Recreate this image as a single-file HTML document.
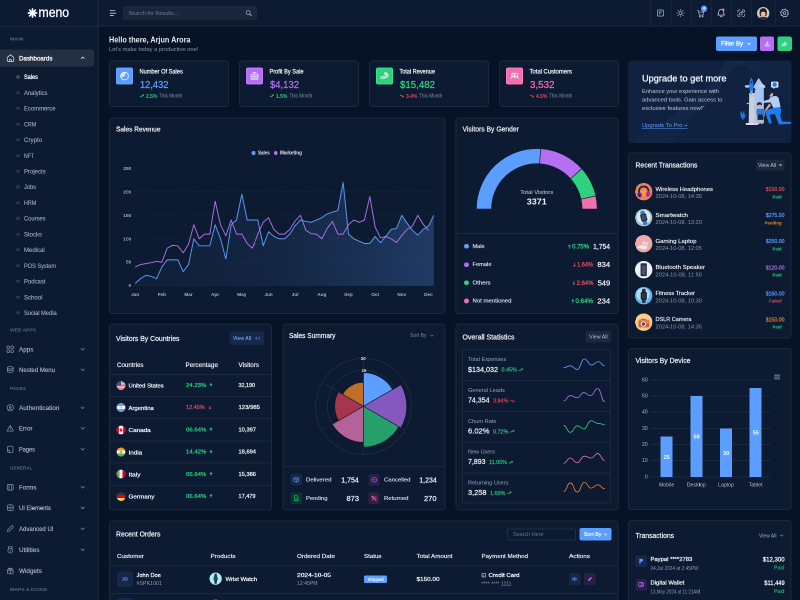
<!DOCTYPE html>
<html lang="en"><head><meta charset="utf-8"><title>Meno Dashboard</title><style>
html,body{margin:0;padding:0;width:800px;height:600px;overflow:hidden;}
body{width:800px;height:600px;overflow:hidden;background:#061225;font-family:"Liberation Sans",sans-serif;position:relative;}
.t{position:absolute;white-space:nowrap;margin:0;padding:0;}
.b{position:absolute;box-sizing:border-box;margin:0;padding:0;}
svg{overflow:visible;}
#w{position:absolute;left:0;top:0;width:1600px;height:1200px;transform:scale(0.5);transform-origin:0 0;will-change:transform;overflow:hidden;}
</style></head><body><div id="w">
<div class="b" style="left:0.00px;top:0.00px;width:197.00px;height:1200.00px;background:#0d1b32;border-right:2px solid #1c283d;"></div>
<div class="b" style="left:197.00px;top:0.00px;width:1403.00px;height:53.00px;background:#0d1b32;border-bottom:2px solid #1c283d;"></div>
<div class="b" style="left:0.00px;top:52.00px;width:197.00px;height:2.00px;background:#1c283d;"></div>
<svg class="b" style="left:55.30px;top:15.80px;" width="20.00" height="20.00" viewBox="0 0 10 10"><g transform="translate(5,5)"><line x1="-4.1" y1="0" x2="4.1" y2="0" transform="rotate(0)" stroke="#fff" stroke-width="1.65" stroke-linecap="round"/><line x1="-4.1" y1="0" x2="4.1" y2="0" transform="rotate(45)" stroke="#fff" stroke-width="1.65" stroke-linecap="round"/><line x1="-4.1" y1="0" x2="4.1" y2="0" transform="rotate(90)" stroke="#fff" stroke-width="1.65" stroke-linecap="round"/><line x1="-4.1" y1="0" x2="4.1" y2="0" transform="rotate(135)" stroke="#fff" stroke-width="1.65" stroke-linecap="round"/></g></svg>
<div class="t" style="top:9.18px;font-size:27.20px;line-height:32.64px;color:#ffffff;left:77.20px;transform:scaleX(0.9);transform-origin:0 50%;-webkit-text-stroke:0.55px #fff;">meno</div>
<div class="t" style="top:73.12px;font-size:8.80px;line-height:10.56px;color:#596881;font-weight:700;left:20.00px;transform:scaleX(1.2007);transform-origin:0 50%;">MAIN</div>
<div class="b" style="left:0.00px;top:99.00px;width:188.00px;height:34.00px;background:#232f43;border-radius:0 5px 5px 0;"></div>
<svg class="b" style="left:12.60px;top:108.00px;" width="16.00" height="16.00" viewBox="0 0 8 8"><path d="M4 0.8 L6.9 3.1 Q7.3 3.5 7.3 4.1 V6.2 Q7.3 7.4 6.1 7.4 H1.9 Q0.7 7.4 0.7 6.2 V4.1 Q0.7 3.5 1.1 3.1 Z" fill="none" stroke="#e9edf4" stroke-width="0.7" stroke-linejoin="round"/><path d="M2.9 7.3 V5.7 Q4 4.6 5.1 5.7 V7.3" fill="none" stroke="#e9edf4" stroke-width="0.6"/></svg>
<div class="t" style="top:109.02px;font-size:12.80px;line-height:15.36px;color:#ffffff;-webkit-text-stroke:0.55px #ffffff;left:38.40px;transform:scaleX(0.9707);transform-origin:0 50%;">Dashboards</div>
<svg class="b" style="left:160.60px;top:112.40px;" width="8.80" height="7.20" viewBox="0 0 4.4 3.6"><path d="M0.6 2.6 L2.2 1 L3.8 2.6" fill="none" stroke="#dfe5ee" stroke-width="0.7" stroke-linecap="round" stroke-linejoin="round"/></svg>
<div class="b" style="left:33.40px;top:151.40px;width:5.20px;height:5.20px;border:2px solid #aeb8c8;border-radius:4.00px;border-width:1.2px;"></div>
<div class="t" style="top:147.34px;font-size:12.60px;line-height:15.12px;color:#ffffff;-webkit-text-stroke:0.50px #ffffff;left:48.20px;transform:scaleX(0.8820);transform-origin:0 50%;">Sales</div>
<div class="b" style="left:33.40px;top:182.84px;width:5.20px;height:5.20px;border:2px solid #66748b;border-radius:4.00px;border-width:1.2px;"></div>
<div class="t" style="top:178.78px;font-size:12.60px;line-height:15.12px;color:#a3afc2;-webkit-text-stroke:0.20px #a3afc2;left:48.20px;transform:scaleX(0.9322);transform-origin:0 50%;">Analytics</div>
<div class="b" style="left:33.40px;top:214.28px;width:5.20px;height:5.20px;border:2px solid #66748b;border-radius:4.00px;border-width:1.2px;"></div>
<div class="t" style="top:210.22px;font-size:12.60px;line-height:15.12px;color:#a3afc2;-webkit-text-stroke:0.20px #a3afc2;left:48.20px;transform:scaleX(0.9373);transform-origin:0 50%;">Ecommerce</div>
<div class="b" style="left:33.40px;top:245.72px;width:5.20px;height:5.20px;border:2px solid #66748b;border-radius:4.00px;border-width:1.2px;"></div>
<div class="t" style="top:241.66px;font-size:12.60px;line-height:15.12px;color:#a3afc2;-webkit-text-stroke:0.20px #a3afc2;left:48.20px;transform:scaleX(0.8503);transform-origin:0 50%;">CRM</div>
<div class="b" style="left:33.40px;top:277.16px;width:5.20px;height:5.20px;border:2px solid #66748b;border-radius:4.00px;border-width:1.2px;"></div>
<div class="t" style="top:273.10px;font-size:12.60px;line-height:15.12px;color:#a3afc2;-webkit-text-stroke:0.20px #a3afc2;left:48.20px;transform:scaleX(0.9808);transform-origin:0 50%;">Crypto</div>
<div class="b" style="left:33.40px;top:308.60px;width:5.20px;height:5.20px;border:2px solid #66748b;border-radius:4.00px;border-width:1.2px;"></div>
<div class="t" style="top:304.54px;font-size:12.60px;line-height:15.12px;color:#a3afc2;-webkit-text-stroke:0.20px #a3afc2;left:48.20px;transform:scaleX(0.8166);transform-origin:0 50%;">NFT</div>
<div class="b" style="left:33.40px;top:340.04px;width:5.20px;height:5.20px;border:2px solid #66748b;border-radius:4.00px;border-width:1.2px;"></div>
<div class="t" style="top:335.98px;font-size:12.60px;line-height:15.12px;color:#a3afc2;-webkit-text-stroke:0.20px #a3afc2;left:48.20px;transform:scaleX(0.9535);transform-origin:0 50%;">Projects</div>
<div class="b" style="left:33.40px;top:371.48px;width:5.20px;height:5.20px;border:2px solid #66748b;border-radius:4.00px;border-width:1.2px;"></div>
<div class="t" style="top:367.42px;font-size:12.60px;line-height:15.12px;color:#a3afc2;-webkit-text-stroke:0.20px #a3afc2;left:48.20px;transform:scaleX(0.9017);transform-origin:0 50%;">Jobs</div>
<div class="b" style="left:33.40px;top:402.92px;width:5.20px;height:5.20px;border:2px solid #66748b;border-radius:4.00px;border-width:1.2px;"></div>
<div class="t" style="top:398.86px;font-size:12.60px;line-height:15.12px;color:#a3afc2;-webkit-text-stroke:0.20px #a3afc2;left:48.20px;transform:scaleX(0.8503);transform-origin:0 50%;">HRM</div>
<div class="b" style="left:33.40px;top:434.36px;width:5.20px;height:5.20px;border:2px solid #66748b;border-radius:4.00px;border-width:1.2px;"></div>
<div class="t" style="top:430.30px;font-size:12.60px;line-height:15.12px;color:#a3afc2;-webkit-text-stroke:0.20px #a3afc2;left:48.20px;transform:scaleX(0.9165);transform-origin:0 50%;">Courses</div>
<div class="b" style="left:33.40px;top:465.80px;width:5.20px;height:5.20px;border:2px solid #66748b;border-radius:4.00px;border-width:1.2px;"></div>
<div class="t" style="top:461.74px;font-size:12.60px;line-height:15.12px;color:#a3afc2;-webkit-text-stroke:0.20px #a3afc2;left:48.20px;transform:scaleX(0.9521);transform-origin:0 50%;">Stocks</div>
<div class="b" style="left:33.40px;top:497.24px;width:5.20px;height:5.20px;border:2px solid #66748b;border-radius:4.00px;border-width:1.2px;"></div>
<div class="t" style="top:493.18px;font-size:12.60px;line-height:15.12px;color:#a3afc2;-webkit-text-stroke:0.20px #a3afc2;left:48.20px;transform:scaleX(0.9535);transform-origin:0 50%;">Medical</div>
<div class="b" style="left:33.40px;top:528.68px;width:5.20px;height:5.20px;border:2px solid #66748b;border-radius:4.00px;border-width:1.2px;"></div>
<div class="t" style="top:524.62px;font-size:12.60px;line-height:15.12px;color:#a3afc2;-webkit-text-stroke:0.20px #a3afc2;left:48.20px;transform:scaleX(0.8874);transform-origin:0 50%;">POS System</div>
<div class="b" style="left:33.40px;top:560.12px;width:5.20px;height:5.20px;border:2px solid #66748b;border-radius:4.00px;border-width:1.2px;"></div>
<div class="t" style="top:556.06px;font-size:12.60px;line-height:15.12px;color:#a3afc2;-webkit-text-stroke:0.20px #a3afc2;left:48.20px;transform:scaleX(0.9445);transform-origin:0 50%;">Podcast</div>
<div class="b" style="left:33.40px;top:591.56px;width:5.20px;height:5.20px;border:2px solid #66748b;border-radius:4.00px;border-width:1.2px;"></div>
<div class="t" style="top:587.50px;font-size:12.60px;line-height:15.12px;color:#a3afc2;-webkit-text-stroke:0.20px #a3afc2;left:48.20px;transform:scaleX(0.9604);transform-origin:0 50%;">School</div>
<div class="b" style="left:33.40px;top:623.00px;width:5.20px;height:5.20px;border:2px solid #66748b;border-radius:4.00px;border-width:1.2px;"></div>
<div class="t" style="top:618.94px;font-size:12.60px;line-height:15.12px;color:#a3afc2;-webkit-text-stroke:0.20px #a3afc2;left:48.20px;transform:scaleX(0.9066);transform-origin:0 50%;">Social Media</div>
<div class="t" style="top:654.72px;font-size:8.80px;line-height:10.56px;color:#596881;font-weight:700;left:20.00px;transform:scaleX(1.1155);transform-origin:0 50%;">WEB APPS</div>
<div class="t" style="top:771.72px;font-size:8.80px;line-height:10.56px;color:#596881;font-weight:700;left:20.00px;transform:scaleX(1.0611);transform-origin:0 50%;">PAGES</div>
<div class="t" style="top:931.32px;font-size:8.80px;line-height:10.56px;color:#596881;font-weight:700;left:20.00px;transform:scaleX(1.0459);transform-origin:0 50%;">GENERAL</div>
<div class="t" style="top:1173.72px;font-size:8.80px;line-height:10.56px;color:#596881;font-weight:700;left:20.00px;transform:scaleX(1.1466);transform-origin:0 50%;">MAPS &amp; ICONS</div>
<svg class="b" style="left:13.20px;top:690.80px;" width="15.00" height="15.00" viewBox="0 0 7.5 7.5"><g fill="none" stroke="#8d9aaf" stroke-width="0.65" stroke-linecap="round"><rect x="0.5" y="0.5" width="2.6" height="2.6" rx="0.7"/><rect x="4.4" y="0.5" width="2.6" height="2.6" rx="0.7"/><rect x="0.5" y="4.4" width="2.6" height="2.6" rx="0.7"/><rect x="4.4" y="4.4" width="2.6" height="2.6" rx="0.7"/></g></svg>
<div class="t" style="top:691.08px;font-size:13.20px;line-height:15.84px;color:#b2bccd;-webkit-text-stroke:0.25px #b2bccd;left:38.40px;transform:scaleX(0.9572);transform-origin:0 50%;">Apps</div>
<svg class="b" style="left:160.60px;top:695.00px;" width="8.80" height="7.20" viewBox="0 0 4.4 3.6"><path d="M0.6 1 L2.2 2.6 L3.8 1" fill="none" stroke="#8492a8" stroke-width="0.7" stroke-linecap="round" stroke-linejoin="round"/></svg>
<svg class="b" style="left:13.20px;top:732.20px;" width="15.00" height="15.00" viewBox="0 0 7.5 7.5"><g fill="none" stroke="#8d9aaf" stroke-width="0.65" stroke-linecap="round"><ellipse cx="3.75" cy="1.8" rx="2.9" ry="1.2"/><path d="M0.85 1.8 V5.6 Q3.75 7.6 6.65 5.6 V1.8"/><path d="M0.85 3.7 Q3.75 5.7 6.65 3.7"/></g></svg>
<div class="t" style="top:732.48px;font-size:13.20px;line-height:15.84px;color:#b2bccd;-webkit-text-stroke:0.25px #b2bccd;left:38.40px;transform:scaleX(0.9171);transform-origin:0 50%;">Nested Menu</div>
<svg class="b" style="left:160.60px;top:736.40px;" width="8.80" height="7.20" viewBox="0 0 4.4 3.6"><path d="M0.6 1 L2.2 2.6 L3.8 1" fill="none" stroke="#8492a8" stroke-width="0.7" stroke-linecap="round" stroke-linejoin="round"/></svg>
<svg class="b" style="left:13.20px;top:807.80px;" width="15.00" height="15.00" viewBox="0 0 7.5 7.5"><g fill="none" stroke="#8d9aaf" stroke-width="0.65" stroke-linecap="round"><circle cx="3.75" cy="3.75" r="3.2"/><circle cx="3.75" cy="3.2" r="0.9"/><path d="M2.3 5.6 Q3.75 4 5.2 5.6"/></g></svg>
<div class="t" style="top:808.08px;font-size:13.20px;line-height:15.84px;color:#b2bccd;-webkit-text-stroke:0.25px #b2bccd;left:38.40px;transform:scaleX(0.9682);transform-origin:0 50%;">Authentication</div>
<svg class="b" style="left:160.60px;top:812.00px;" width="8.80" height="7.20" viewBox="0 0 4.4 3.6"><path d="M0.6 1 L2.2 2.6 L3.8 1" fill="none" stroke="#8492a8" stroke-width="0.7" stroke-linecap="round" stroke-linejoin="round"/></svg>
<svg class="b" style="left:13.20px;top:849.20px;" width="15.00" height="15.00" viewBox="0 0 7.5 7.5"><g fill="none" stroke="#8d9aaf" stroke-width="0.65" stroke-linecap="round"><path d="M3.75 0.8 L7 6.6 H0.5 Z" stroke-linejoin="round"/><path d="M3.75 3 V4.6 M3.75 5.4 V5.6"/></g></svg>
<div class="t" style="top:849.48px;font-size:13.20px;line-height:15.84px;color:#b2bccd;-webkit-text-stroke:0.25px #b2bccd;left:38.40px;transform:scaleX(0.9204);transform-origin:0 50%;">Error</div>
<svg class="b" style="left:160.60px;top:853.40px;" width="8.80" height="7.20" viewBox="0 0 4.4 3.6"><path d="M0.6 1 L2.2 2.6 L3.8 1" fill="none" stroke="#8492a8" stroke-width="0.7" stroke-linecap="round" stroke-linejoin="round"/></svg>
<svg class="b" style="left:13.20px;top:891.20px;" width="15.00" height="15.00" viewBox="0 0 7.5 7.5"><g fill="none" stroke="#8d9aaf" stroke-width="0.65" stroke-linecap="round"><path d="M1 1.8 Q1 0.7 2.1 0.7 H5.4 Q6.5 0.7 6.5 1.8 V5.7 Q6.5 6.8 5.4 6.8 H2.1 Q1 6.8 1 5.7 Z"/><path d="M1 4.6 L3 4.6 L3 6.8"/></g></svg>
<div class="t" style="top:891.48px;font-size:13.20px;line-height:15.84px;color:#b2bccd;-webkit-text-stroke:0.25px #b2bccd;left:38.40px;transform:scaleX(0.8549);transform-origin:0 50%;">Pages</div>
<svg class="b" style="left:160.60px;top:895.40px;" width="8.80" height="7.20" viewBox="0 0 4.4 3.6"><path d="M0.6 1 L2.2 2.6 L3.8 1" fill="none" stroke="#8492a8" stroke-width="0.7" stroke-linecap="round" stroke-linejoin="round"/></svg>
<svg class="b" style="left:13.20px;top:966.80px;" width="15.00" height="15.00" viewBox="0 0 7.5 7.5"><g fill="none" stroke="#8d9aaf" stroke-width="0.65" stroke-linecap="round"><rect x="0.8" y="0.8" width="5.9" height="5.9" rx="1.3"/><path d="M2.5 0.8 V6.7 M5 0.8 V6.7"/></g></svg>
<div class="t" style="top:967.08px;font-size:13.20px;line-height:15.84px;color:#b2bccd;-webkit-text-stroke:0.25px #b2bccd;left:38.40px;transform:scaleX(0.9359);transform-origin:0 50%;">Forms</div>
<svg class="b" style="left:160.60px;top:971.00px;" width="8.80" height="7.20" viewBox="0 0 4.4 3.6"><path d="M0.6 1 L2.2 2.6 L3.8 1" fill="none" stroke="#8492a8" stroke-width="0.7" stroke-linecap="round" stroke-linejoin="round"/></svg>
<svg class="b" style="left:13.20px;top:1008.20px;" width="15.00" height="15.00" viewBox="0 0 7.5 7.5"><g fill="none" stroke="#8d9aaf" stroke-width="0.65" stroke-linecap="round"><rect x="0.8" y="0.8" width="5.9" height="5.9" rx="1.6"/><path d="M0.8 3.75 H6.7 M3.75 0.8 V2.3 M3.75 5.2 V6.7"/></g></svg>
<div class="t" style="top:1008.48px;font-size:13.20px;line-height:15.84px;color:#b2bccd;-webkit-text-stroke:0.25px #b2bccd;left:38.40px;transform:scaleX(0.8902);transform-origin:0 50%;">UI Elements</div>
<svg class="b" style="left:160.60px;top:1012.40px;" width="8.80" height="7.20" viewBox="0 0 4.4 3.6"><path d="M0.6 1 L2.2 2.6 L3.8 1" fill="none" stroke="#8492a8" stroke-width="0.7" stroke-linecap="round" stroke-linejoin="round"/></svg>
<svg class="b" style="left:13.20px;top:1050.20px;" width="15.00" height="15.00" viewBox="0 0 7.5 7.5"><g fill="none" stroke="#8d9aaf" stroke-width="0.65" stroke-linecap="round"><path d="M0.9 6.6 L1.4 4.6 L5 1 Q5.8 0.4 6.5 1.1 Q7 1.8 6.4 2.5 L2.8 6.1 Z" stroke-linejoin="round"/></g></svg>
<div class="t" style="top:1050.48px;font-size:13.20px;line-height:15.84px;color:#b2bccd;-webkit-text-stroke:0.25px #b2bccd;left:38.40px;transform:scaleX(0.9129);transform-origin:0 50%;">Advanced UI</div>
<svg class="b" style="left:160.60px;top:1054.40px;" width="8.80" height="7.20" viewBox="0 0 4.4 3.6"><path d="M0.6 1 L2.2 2.6 L3.8 1" fill="none" stroke="#8492a8" stroke-width="0.7" stroke-linecap="round" stroke-linejoin="round"/></svg>
<svg class="b" style="left:13.20px;top:1092.20px;" width="15.00" height="15.00" viewBox="0 0 7.5 7.5"><g fill="none" stroke="#8d9aaf" stroke-width="0.65" stroke-linecap="round"><circle cx="3.75" cy="4.6" r="2.4"/><path d="M2.2 2.4 L1.7 0.8 H5.8 L5.3 2.4 M3.75 3.6 V5.4"/></g></svg>
<div class="t" style="top:1092.48px;font-size:13.20px;line-height:15.84px;color:#b2bccd;-webkit-text-stroke:0.25px #b2bccd;left:38.40px;transform:scaleX(0.9638);transform-origin:0 50%;">Utilities</div>
<svg class="b" style="left:160.60px;top:1096.40px;" width="8.80" height="7.20" viewBox="0 0 4.4 3.6"><path d="M0.6 1 L2.2 2.6 L3.8 1" fill="none" stroke="#8492a8" stroke-width="0.7" stroke-linecap="round" stroke-linejoin="round"/></svg>
<svg class="b" style="left:13.20px;top:1133.80px;" width="15.00" height="15.00" viewBox="0 0 7.5 7.5"><g fill="none" stroke="#8d9aaf" stroke-width="0.65" stroke-linecap="round"><rect x="0.9" y="2.2" width="5.7" height="4.6" rx="0.8"/><path d="M0.9 3.8 H6.6 M3.75 2.2 V6.8 M3.75 2.2 Q2 0.2 1.9 1.6 Q2 2.2 3.75 2.2 Q5.5 2.2 5.6 1.6 Q5.5 0.2 3.75 2.2"/></g></svg>
<div class="t" style="top:1134.08px;font-size:13.20px;line-height:15.84px;color:#b2bccd;-webkit-text-stroke:0.25px #b2bccd;left:38.40px;transform:scaleX(0.9647);transform-origin:0 50%;">Widgets</div>
<svg class="b" style="left:219.00px;top:19.20px;" width="16.00" height="14.00" viewBox="0 0 8 7"><path d="M0.7 1 H5.3 M0.7 3.7 H6.4 M0.7 6.1 H3.9" stroke="#c5cdda" stroke-width="0.85" stroke-linecap="round"/></svg>
<div class="b" style="left:246.00px;top:11.60px;width:268.00px;height:28.80px;background:#1a263c;border-radius:4.00px;"></div>
<div class="t" style="top:19.24px;font-size:11.60px;line-height:13.92px;color:#6f7e97;left:256.60px;transform:scaleX(0.9478);transform-origin:0 50%;">Search for Results...</div>
<svg class="b" style="left:491.00px;top:20.00px;" width="13.00" height="13.00" viewBox="0 0 6.5 6.5"><circle cx="2.7" cy="2.7" r="2" fill="none" stroke="#aab5c6" stroke-width="0.7"/><path d="M4.2 4.2 L5.8 5.8" stroke="#aab5c6" stroke-width="0.8" stroke-linecap="round"/></svg>
<div class="b" style="left:1301.00px;top:0.00px;width:2.00px;height:53.00px;background:#18243a;"></div>
<div class="b" style="left:1342.40px;top:0.00px;width:2.00px;height:53.00px;background:#18243a;"></div>
<div class="b" style="left:1382.40px;top:0.00px;width:2.00px;height:53.00px;background:#18243a;"></div>
<div class="b" style="left:1421.60px;top:0.00px;width:2.00px;height:53.00px;background:#18243a;"></div>
<div class="b" style="left:1462.00px;top:0.00px;width:2.00px;height:53.00px;background:#18243a;"></div>
<div class="b" style="left:1502.40px;top:0.00px;width:2.00px;height:53.00px;background:#18243a;"></div>
<div class="b" style="left:1550.00px;top:0.00px;width:2.00px;height:53.00px;background:#18243a;"></div>
<svg class="b" style="left:1313.00px;top:18.00px;" width="16.00" height="16.00" viewBox="0 0 8 8"><rect x="0.9" y="0.9" width="6.2" height="6.2" rx="1.4" fill="none" stroke="#c3cbd9" stroke-width="0.62" stroke-linecap="round" stroke-linejoin="round"/><path d="M3 2.8 H5 M3 2.8 V5.2 M3 4 H4.6" fill="none" stroke="#c3cbd9" stroke-width="0.62" stroke-linecap="round" stroke-linejoin="round"/></svg>
<svg class="b" style="left:1352.00px;top:17.00px;" width="18.00" height="18.00" viewBox="0 0 9 9"><circle cx="4.5" cy="4.5" r="1.5" fill="none" stroke="#c3cbd9" stroke-width="0.62" stroke-linecap="round" stroke-linejoin="round"/><line x1="4.5" y1="1.7" x2="4.5" y2="0.7" transform="rotate(0 4.5 4.5)" fill="none" stroke="#c3cbd9" stroke-width="0.62" stroke-linecap="round" stroke-linejoin="round"/><line x1="4.5" y1="1.7" x2="4.5" y2="0.7" transform="rotate(45 4.5 4.5)" fill="none" stroke="#c3cbd9" stroke-width="0.62" stroke-linecap="round" stroke-linejoin="round"/><line x1="4.5" y1="1.7" x2="4.5" y2="0.7" transform="rotate(90 4.5 4.5)" fill="none" stroke="#c3cbd9" stroke-width="0.62" stroke-linecap="round" stroke-linejoin="round"/><line x1="4.5" y1="1.7" x2="4.5" y2="0.7" transform="rotate(135 4.5 4.5)" fill="none" stroke="#c3cbd9" stroke-width="0.62" stroke-linecap="round" stroke-linejoin="round"/><line x1="4.5" y1="1.7" x2="4.5" y2="0.7" transform="rotate(180 4.5 4.5)" fill="none" stroke="#c3cbd9" stroke-width="0.62" stroke-linecap="round" stroke-linejoin="round"/><line x1="4.5" y1="1.7" x2="4.5" y2="0.7" transform="rotate(225 4.5 4.5)" fill="none" stroke="#c3cbd9" stroke-width="0.62" stroke-linecap="round" stroke-linejoin="round"/><line x1="4.5" y1="1.7" x2="4.5" y2="0.7" transform="rotate(270 4.5 4.5)" fill="none" stroke="#c3cbd9" stroke-width="0.62" stroke-linecap="round" stroke-linejoin="round"/><line x1="4.5" y1="1.7" x2="4.5" y2="0.7" transform="rotate(315 4.5 4.5)" fill="none" stroke="#c3cbd9" stroke-width="0.62" stroke-linecap="round" stroke-linejoin="round"/></svg>
<svg class="b" style="left:1392.80px;top:18.60px;" width="16.80" height="16.80" viewBox="0 0 8.4 8.4"><path d="M0.6 1 H1.8 L2.8 5.6 H6.6 L7.3 2.6 H2.2" fill="none" stroke="#c3cbd9" stroke-width="0.62" stroke-linecap="round" stroke-linejoin="round"/><circle cx="3.3" cy="7" r="0.6" fill="none" stroke="#c3cbd9" stroke-width="0.62" stroke-linecap="round" stroke-linejoin="round"/><circle cx="6.1" cy="7" r="0.6" fill="none" stroke="#c3cbd9" stroke-width="0.62" stroke-linecap="round" stroke-linejoin="round"/></svg>
<div class="b" style="left:1402.00px;top:11.20px;width:12.40px;height:12.40px;background:#5c9eff;border-radius:6.20px;"></div>
<div class="t" style="top:13.06px;font-size:7.40px;line-height:8.88px;color:#fff;font-weight:700;left:1408.20px;width:0;display:flex;justify-content:center;"><span style="display:inline-block;">4</span></div>
<svg class="b" style="left:1431.80px;top:15.80px;" width="20.80" height="20.80" viewBox="0 0 8.5 8.5"><path d="M1.6 5.8 Q2.2 5 2.2 3.4 Q2.3 1.2 4.25 1.1 Q6.2 1.2 6.3 3.4 Q6.3 5 6.9 5.8 Z M3.4 6.9 Q4.25 7.6 5.1 6.9" fill="none" stroke="#c3cbd9" stroke-width="0.62" stroke-linecap="round" stroke-linejoin="round"/></svg>
<div class="b" style="left:1443.60px;top:16.60px;width:5.40px;height:5.40px;background:#f170ad;border-radius:4.00px;"></div>
<svg class="b" style="left:1473.60px;top:18.00px;" width="16.80" height="16.80" viewBox="0 0 8.4 8.4"><path d="M3.2 0.9 H2.2 Q0.9 0.9 0.9 2.2 V3.2 M5.2 0.9 H6.2 Q7.5 0.9 7.5 2.2 V3.2 M0.9 5.2 V6.2 Q0.9 7.5 2.2 7.5 H3.2 M7.5 5.2 V6.2 Q7.5 7.5 6.2 7.5 H5.2" fill="none" stroke="#c3cbd9" stroke-width="0.62" stroke-linecap="round" stroke-linejoin="round"/><rect x="2.6" y="3.6" width="2.4" height="2.4" rx="0.5" fill="none" stroke="#c3cbd9" stroke-width="0.62" stroke-linecap="round" stroke-linejoin="round"/><path d="M4.6 2.4 H6 V3.8" fill="none" stroke="#c3cbd9" stroke-width="0.62" stroke-linecap="round" stroke-linejoin="round"/></svg>
<svg class="b" style="left:1513.60px;top:14.00px;" width="24.80" height="24.80" viewBox="0 0 12 12"><defs><clipPath id="av"><circle cx="6" cy="6" r="6"/></clipPath></defs><g clip-path="url(#av)"><rect width="12" height="12" fill="#cfcac6"/><ellipse cx="6" cy="12.6" rx="5.6" ry="3.2" fill="#2c313d"/><path d="M2.6 7.5 Q1.8 1 6 1.2 Q10.2 1 9.4 7.5 Q9 9 8 9 L4 9 Q3 9 2.6 7.5Z" fill="#2a2019"/><ellipse cx="6" cy="6.6" rx="2.3" ry="2.9" fill="#e6bfa3"/><path d="M3.6 5.8 Q4 3.2 6 3.6 Q8 3.2 8.4 5.8 Q7.6 4.4 6 4.6 Q4.4 4.4 3.6 5.8Z" fill="#2a2019"/></g></svg>
<svg class="b" style="left:1559.00px;top:16.20px;" width="20.00" height="20.00" viewBox="0 0 8.5 8.5"><circle cx="4.25" cy="4.25" r="1.2" fill="none" stroke="#c3cbd9" stroke-width="0.62" stroke-linecap="round" stroke-linejoin="round"/><polygon points="7.68,4.93 6.58,5.81 6.19,7.16 4.80,7.00 3.57,7.68 2.69,6.58 1.34,6.19 1.50,4.80 0.82,3.57 1.92,2.69 2.31,1.34 3.70,1.50 4.93,0.82 5.81,1.92 7.16,2.31 7.00,3.70" fill="none" stroke="#c3cbd9" stroke-width="0.62" stroke-linecap="round" stroke-linejoin="round"/></svg>
<div class="t" style="top:70.72px;font-size:15.80px;line-height:18.96px;color:#e9edf4;font-weight:700;left:218.00px;transform:scaleX(0.9206);transform-origin:0 50%;">Hello there, Arjun Arora</div>
<div class="t" style="top:91.68px;font-size:11.20px;line-height:13.44px;color:#8d9ab0;left:218.00px;transform:scaleX(1.0326);transform-origin:0 50%;">Let's make today a productive one!</div>
<div class="b" style="left:1432.00px;top:73.40px;width:82.00px;height:28.60px;background:#5c9eff;border-radius:4.00px;"></div>
<div class="t" style="top:80.24px;font-size:12.60px;line-height:15.12px;color:#fff;-webkit-text-stroke:0.50px #fff;left:1442.20px;transform:scaleX(0.9523);transform-origin:0 50%;">Filter By</div>
<svg class="b" style="left:1494.00px;top:85.20px;" width="8.00" height="6.00" viewBox="0 0 4 3"><path d="M0.4 0.6 H3.6 L2 2.5 Z" fill="#fff"/></svg>
<div class="b" style="left:1520.00px;top:73.40px;width:28.40px;height:28.60px;background:#b46ff2;border-radius:4.00px;"></div>
<svg class="b" style="left:1527.60px;top:81.40px;" width="13.20" height="13.20" viewBox="0 0 7.6 7.6"><path d="M3.8 1 V4.6 M2.3 3.3 L3.8 4.8 L5.3 3.3 M1.3 5 V6.3 H6.3 V5" fill="none" stroke="#fff" stroke-opacity="0.9" stroke-width="0.8" stroke-linecap="round" stroke-linejoin="round"/></svg>
<div class="b" style="left:1554.60px;top:73.40px;width:28.60px;height:28.60px;background:#2fd080;border-radius:4.00px;"></div>
<svg class="b" style="left:1562.00px;top:81.20px;" width="13.60" height="13.60" viewBox="0 0 7.6 7.6"><path d="M1.4 6.3 Q1.6 3.3 4.2 3.2 V1.7 L6.5 3.8 L4.2 5.9 V4.5 Q2.4 4.5 1.4 6.3Z" fill="none" stroke="#fff" stroke-width="0.7" stroke-linejoin="round"/></svg>
<div class="b" style="left:218.00px;top:121.00px;width:239.60px;height:93.40px;background:#0d1b32;border:2px solid #1c283d;border-radius:6.00px;"></div>
<div class="b" style="left:231.40px;top:134.40px;width:35.20px;height:35.20px;background:#050d1c;border-radius:5.20px;"></div>
<div class="b" style="left:232.00px;top:135.20px;width:33.80px;height:33.40px;background:#5c9eff;border:2px solid #6aa8ff;border-radius:4.00px;"></div>
<svg class="b" style="left:238.80px;top:141.80px;" width="20.00" height="20.00" viewBox="0 0 10 10"><circle cx="5" cy="5" r="3.9" fill="none" stroke="#fff" stroke-width="0.75" stroke-opacity="0.95"/><path d="M5 5 L5.9 1.2 A3.9 3.9 0 0 0 1.3 6.3 Z" fill="#fff" fill-opacity="0.65"/><path d="M5 5 L5.9 1.2 M5 5 L1.3 6.3" stroke="#fff" stroke-width="0.5"/></svg>
<div class="t" style="top:135.56px;font-size:12.40px;line-height:14.88px;color:#f2f5fa;-webkit-text-stroke:0.45px #f2f5fa;left:279.20px;transform:scaleX(0.9106);transform-origin:0 50%;">Number Of Sales</div>
<div class="t" style="top:156.60px;font-size:20.00px;line-height:24.00px;color:#5c9eff;left:279.60px;-webkit-text-stroke:0.5px #5c9eff;transform:scaleX(0.9285);transform-origin:0 50%;">12,432</div>
<svg class="b" style="left:279.20px;top:188.40px;" width="8.80" height="7.20" viewBox="0 0 4.4 3.6"><path d="M0.4 3 L1.6 1.9 L2.3 2.5 L3.9 0.9 M2.7 0.8 H4 V2" fill="none" stroke="#2fd080" stroke-width="0.65"/></svg>
<div class="t" style="top:185.84px;font-size:10.60px;line-height:12.72px;color:#2fd080;font-weight:700;left:292.00px;transform:scaleX(0.9437);transform-origin:0 50%;">2.5%</div>
<div class="t" style="top:186.20px;font-size:10.00px;line-height:12.00px;color:#8492a8;left:318.40px;transform:scaleX(0.9421);transform-origin:0 50%;">This Month</div>
<div class="b" style="left:478.00px;top:121.00px;width:239.60px;height:93.40px;background:#0d1b32;border:2px solid #1c283d;border-radius:6.00px;"></div>
<div class="b" style="left:491.40px;top:134.40px;width:35.20px;height:35.20px;background:#050d1c;border-radius:5.20px;"></div>
<div class="b" style="left:492.00px;top:135.20px;width:33.80px;height:33.40px;background:#b46ff2;border:2px solid #c47cff;border-radius:4.00px;"></div>
<svg class="b" style="left:498.80px;top:141.80px;" width="20.00" height="20.00" viewBox="0 0 10 10"><path d="M3.4 3 Q3.4 1.4 5 1.4 Q6.6 1.4 6.6 3" fill="none" stroke="#fff" stroke-width="0.8" stroke-opacity="0.9"/><rect x="1" y="2.8" width="8" height="6" rx="0.9" fill="#fff" fill-opacity="0.62"/><path d="M1.7 3.5 L3.2 4.8 H4.4 L4.4 3.5Z M8.3 3.5 L6.8 4.8 H5.6 L5.6 3.5Z" fill="#b46ff2" fill-opacity="0.9"/><path d="M1.9 6.7 H8.1" stroke="#b46ff2" stroke-width="0.7" stroke-opacity="0.8"/></svg>
<div class="t" style="top:135.56px;font-size:12.40px;line-height:14.88px;color:#f2f5fa;-webkit-text-stroke:0.45px #f2f5fa;left:539.20px;transform:scaleX(0.9052);transform-origin:0 50%;">Profit By Sale</div>
<div class="t" style="top:156.60px;font-size:20.00px;line-height:24.00px;color:#b46ff2;left:539.60px;-webkit-text-stroke:0.5px #b46ff2;transform:scaleX(0.9481);transform-origin:0 50%;">$4,132</div>
<svg class="b" style="left:539.20px;top:188.40px;" width="8.80" height="7.20" viewBox="0 0 4.4 3.6"><path d="M0.4 3 L1.6 1.9 L2.3 2.5 L3.9 0.9 M2.7 0.8 H4 V2" fill="none" stroke="#2fd080" stroke-width="0.65"/></svg>
<div class="t" style="top:185.84px;font-size:10.60px;line-height:12.72px;color:#2fd080;font-weight:700;left:552.00px;transform:scaleX(0.9437);transform-origin:0 50%;">1.5%</div>
<div class="t" style="top:186.20px;font-size:10.00px;line-height:12.00px;color:#8492a8;left:578.40px;transform:scaleX(0.9421);transform-origin:0 50%;">This Month</div>
<div class="b" style="left:738.00px;top:121.00px;width:239.60px;height:93.40px;background:#0d1b32;border:2px solid #1c283d;border-radius:6.00px;"></div>
<div class="b" style="left:751.40px;top:134.40px;width:35.20px;height:35.20px;background:#050d1c;border-radius:5.20px;"></div>
<div class="b" style="left:752.00px;top:135.20px;width:33.80px;height:33.40px;background:#2fd080;border:2px solid #36e590;border-radius:4.00px;"></div>
<svg class="b" style="left:758.80px;top:141.80px;" width="20.00" height="20.00" viewBox="0 0 10 10"><circle cx="6.2" cy="2.7" r="1.4" fill="#fff" fill-opacity="0.5" stroke="#fff" stroke-width="0.5" stroke-opacity="0.9"/><circle cx="7.7" cy="4" r="1.2" fill="#fff" fill-opacity="0.5" stroke="#fff" stroke-width="0.4" stroke-opacity="0.8"/><path d="M0.9 5.7 Q2.4 4.3 4.2 4.9 L6 5.3 Q7.4 4.6 8.9 4.8 Q9.3 5.4 8.6 6 L6 7.6 Q4 8.4 0.9 7.8 Z" fill="#fff" fill-opacity="0.62"/><circle cx="3" cy="6.4" r="0.8" fill="#2fd080" fill-opacity="0.8"/></svg>
<div class="t" style="top:135.56px;font-size:12.40px;line-height:14.88px;color:#f2f5fa;-webkit-text-stroke:0.45px #f2f5fa;left:799.20px;transform:scaleX(0.8956);transform-origin:0 50%;">Total Revenue</div>
<div class="t" style="top:156.60px;font-size:20.00px;line-height:24.00px;color:#2fd080;left:799.60px;-webkit-text-stroke:0.5px #2fd080;transform:scaleX(0.9682);transform-origin:0 50%;">$15,482</div>
<svg class="b" style="left:799.20px;top:188.40px;" width="8.80" height="7.20" viewBox="0 0 4.4 3.6"><path d="M0.4 0.8 L1.6 1.9 L2.3 1.4 L3.9 2.9 M2.7 3 H4 V1.8" fill="none" stroke="#e54c52" stroke-width="0.65"/></svg>
<div class="t" style="top:185.84px;font-size:10.60px;line-height:12.72px;color:#e54c52;font-weight:700;left:812.00px;transform:scaleX(0.9437);transform-origin:0 50%;">3.4%</div>
<div class="t" style="top:186.20px;font-size:10.00px;line-height:12.00px;color:#8492a8;left:838.40px;transform:scaleX(0.9421);transform-origin:0 50%;">This Month</div>
<div class="b" style="left:998.00px;top:121.00px;width:239.60px;height:93.40px;background:#0d1b32;border:2px solid #1c283d;border-radius:6.00px;"></div>
<div class="b" style="left:1011.40px;top:134.40px;width:35.20px;height:35.20px;background:#050d1c;border-radius:5.20px;"></div>
<div class="b" style="left:1012.00px;top:135.20px;width:33.80px;height:33.40px;background:#f170ad;border:2px solid #ff7fbe;border-radius:4.00px;"></div>
<svg class="b" style="left:1018.80px;top:141.80px;" width="20.00" height="20.00" viewBox="0 0 10 10"><circle cx="3.7" cy="3.9" r="1.85" fill="#fff" fill-opacity="0.3" stroke="#fff" stroke-width="0.7"/><circle cx="6.6" cy="3.9" r="1.85" fill="none" stroke="#fff" stroke-width="0.7"/><path d="M1 7.5 Q1.8 6 3 5.8 M4.4 5.8 Q5.2 6 5.7 7.2 M7.3 5.8 Q8.6 6 9.2 7.5" stroke="#fff" stroke-width="0.75" fill="none" stroke-linecap="round"/></svg>
<div class="t" style="top:135.56px;font-size:12.40px;line-height:14.88px;color:#f2f5fa;-webkit-text-stroke:0.45px #f2f5fa;left:1059.20px;transform:scaleX(0.9488);transform-origin:0 50%;">Total Customers</div>
<div class="t" style="top:156.60px;font-size:20.00px;line-height:24.00px;color:#f170ad;left:1059.60px;-webkit-text-stroke:0.5px #f170ad;transform:scaleX(0.9790);transform-origin:0 50%;">3,532</div>
<svg class="b" style="left:1059.20px;top:188.40px;" width="8.80" height="7.20" viewBox="0 0 4.4 3.6"><path d="M0.4 0.8 L1.6 1.9 L2.3 1.4 L3.9 2.9 M2.7 3 H4 V1.8" fill="none" stroke="#e54c52" stroke-width="0.65"/></svg>
<div class="t" style="top:185.84px;font-size:10.60px;line-height:12.72px;color:#e54c52;font-weight:700;left:1072.00px;transform:scaleX(0.9437);transform-origin:0 50%;">4.5%</div>
<div class="t" style="top:186.20px;font-size:10.00px;line-height:12.00px;color:#8492a8;left:1098.40px;transform:scaleX(0.9421);transform-origin:0 50%;">This Month</div>
<div class="b" style="left:218.00px;top:234.60px;width:672.60px;height:393.00px;background:#0d1b32;border:2px solid #1c283d;border-radius:6.00px;"></div>
<div class="t" style="top:250.16px;font-size:14.40px;line-height:17.28px;color:#f2f5fa;-webkit-text-stroke:0.40px #f2f5fa;left:232.00px;transform:scaleX(0.9113);transform-origin:0 50%;">Sales Revenue</div>
<div class="b" style="left:503.20px;top:302.20px;width:7.60px;height:7.60px;background:#5c9eff;border-radius:4.00px;"></div>
<div class="t" style="top:300.20px;font-size:10.00px;line-height:12.00px;color:#dfe5ee;font-weight:700;left:516.00px;transform:scaleX(0.8954);transform-origin:0 50%;">Sales</div>
<div class="b" style="left:547.60px;top:302.20px;width:7.60px;height:7.60px;background:#b46ff2;border-radius:4.00px;"></div>
<div class="t" style="top:300.20px;font-size:10.00px;line-height:12.00px;color:#dfe5ee;font-weight:700;left:560.00px;transform:scaleX(0.9316);transform-origin:0 50%;">Marketing</div>
<div class="t" style="top:330.76px;font-size:9.40px;line-height:11.28px;color:#aab4c5;font-weight:700;right:1337.80px;">250</div>
<svg class="b" style="left:269.00px;top:334.40px;" width="600.00" height="4.00" viewBox="0 0 300 2"><line x1="0" y1="1" x2="300" y2="1" stroke="#25334b" stroke-width="0.6" stroke-dasharray="1.8 2.6"/></svg>
<div class="t" style="top:377.68px;font-size:9.40px;line-height:11.28px;color:#aab4c5;font-weight:700;right:1337.80px;">200</div>
<svg class="b" style="left:269.00px;top:381.32px;" width="600.00" height="4.00" viewBox="0 0 300 2"><line x1="0" y1="1" x2="300" y2="1" stroke="#25334b" stroke-width="0.6" stroke-dasharray="1.8 2.6"/></svg>
<div class="t" style="top:424.60px;font-size:9.40px;line-height:11.28px;color:#aab4c5;font-weight:700;right:1337.80px;">150</div>
<svg class="b" style="left:269.00px;top:428.24px;" width="600.00" height="4.00" viewBox="0 0 300 2"><line x1="0" y1="1" x2="300" y2="1" stroke="#25334b" stroke-width="0.6" stroke-dasharray="1.8 2.6"/></svg>
<div class="t" style="top:471.52px;font-size:9.40px;line-height:11.28px;color:#aab4c5;font-weight:700;right:1337.80px;">100</div>
<svg class="b" style="left:269.00px;top:475.16px;" width="600.00" height="4.00" viewBox="0 0 300 2"><line x1="0" y1="1" x2="300" y2="1" stroke="#25334b" stroke-width="0.6" stroke-dasharray="1.8 2.6"/></svg>
<div class="t" style="top:518.44px;font-size:9.40px;line-height:11.28px;color:#aab4c5;font-weight:700;right:1337.80px;">50</div>
<svg class="b" style="left:269.00px;top:522.08px;" width="600.00" height="4.00" viewBox="0 0 300 2"><line x1="0" y1="1" x2="300" y2="1" stroke="#25334b" stroke-width="0.6" stroke-dasharray="1.8 2.6"/></svg>
<div class="t" style="top:565.36px;font-size:9.40px;line-height:11.28px;color:#aab4c5;font-weight:700;right:1337.80px;">0</div>
<svg class="b" style="left:269.00px;top:569.00px;" width="600.00" height="4.00" viewBox="0 0 300 2"><line x1="0" y1="1" x2="300" y2="1" stroke="#25334b" stroke-width="0.6" stroke-dasharray="1.8 2.6"/></svg>
<div class="t" style="top:582.56px;font-size:9.40px;line-height:11.28px;color:#aab4c5;font-weight:700;left:270.40px;width:0;display:flex;justify-content:center;"><span style="display:inline-block;">Jan</span></div>
<div class="t" style="top:582.56px;font-size:9.40px;line-height:11.28px;color:#aab4c5;font-weight:700;left:323.72px;width:0;display:flex;justify-content:center;"><span style="display:inline-block;">Feb</span></div>
<div class="t" style="top:582.56px;font-size:9.40px;line-height:11.28px;color:#aab4c5;font-weight:700;left:377.04px;width:0;display:flex;justify-content:center;"><span style="display:inline-block;">Mar</span></div>
<div class="t" style="top:582.56px;font-size:9.40px;line-height:11.28px;color:#aab4c5;font-weight:700;left:430.36px;width:0;display:flex;justify-content:center;"><span style="display:inline-block;">Apr</span></div>
<div class="t" style="top:582.56px;font-size:9.40px;line-height:11.28px;color:#aab4c5;font-weight:700;left:483.68px;width:0;display:flex;justify-content:center;"><span style="display:inline-block;">May</span></div>
<div class="t" style="top:582.56px;font-size:9.40px;line-height:11.28px;color:#aab4c5;font-weight:700;left:537.00px;width:0;display:flex;justify-content:center;"><span style="display:inline-block;">Jun</span></div>
<div class="t" style="top:582.56px;font-size:9.40px;line-height:11.28px;color:#aab4c5;font-weight:700;left:590.32px;width:0;display:flex;justify-content:center;"><span style="display:inline-block;">Jul</span></div>
<div class="t" style="top:582.56px;font-size:9.40px;line-height:11.28px;color:#aab4c5;font-weight:700;left:643.64px;width:0;display:flex;justify-content:center;"><span style="display:inline-block;">Aug</span></div>
<div class="t" style="top:582.56px;font-size:9.40px;line-height:11.28px;color:#aab4c5;font-weight:700;left:696.96px;width:0;display:flex;justify-content:center;"><span style="display:inline-block;">Sep</span></div>
<div class="t" style="top:582.56px;font-size:9.40px;line-height:11.28px;color:#aab4c5;font-weight:700;left:750.28px;width:0;display:flex;justify-content:center;"><span style="display:inline-block;">Oct</span></div>
<div class="t" style="top:582.56px;font-size:9.40px;line-height:11.28px;color:#aab4c5;font-weight:700;left:803.60px;width:0;display:flex;justify-content:center;"><span style="display:inline-block;">Nov</span></div>
<div class="t" style="top:582.56px;font-size:9.40px;line-height:11.28px;color:#aab4c5;font-weight:700;left:856.92px;width:0;display:flex;justify-content:center;"><span style="display:inline-block;">Dec</span></div>
<svg class="b" style="left:218.00px;top:234.60px;" width="672.00" height="392.00" viewBox="0 0 336 196"><defs><linearGradient id="ga" x1="0" y1="0" x2="1" y2="0"><stop offset="0" stop-color="#5c9eff" stop-opacity="0.03"/><stop offset="0.5" stop-color="#5c9eff" stop-opacity="0.09"/><stop offset="1" stop-color="#5c9eff" stop-opacity="0.245"/></linearGradient></defs><path d="M26.20,165.85 L31.53,161.16 L36.86,157.88 L42.20,158.82 L47.53,161.16 L52.86,149.43 L58.19,142.39 L63.52,142.39 L68.86,142.39 L74.19,154.12 L79.52,147.09 L84.85,121.28 L90.18,128.32 L95.52,128.32 L100.85,128.32 L106.18,107.20 L111.51,121.28 L116.84,141.46 L122.18,107.20 L127.51,102.51 L132.84,76.71 L138.17,102.51 L143.50,102.51 L148.84,102.51 L154.17,128.32 L159.50,114.24 L164.83,118.93 L170.16,121.28 L175.50,121.28 L180.83,116.59 L186.16,108.14 L191.49,102.51 L196.82,103.92 L202.16,104.86 L207.49,102.51 L212.82,100.17 L218.15,96.41 L223.48,94.54 L228.82,93.13 L234.15,64.98 L239.48,116.59 L244.81,121.28 L250.14,123.63 L255.48,125.97 L260.81,125.97 L266.14,118.93 L271.47,125.03 L276.80,118.93 L282.14,111.90 L287.47,110.96 L292.80,97.82 L298.13,105.80 L303.46,112.83 L308.80,117.53 L314.13,111.90 L319.46,108.61 L324.79,97.82 L324.79,168.20 L26.20,168.20 Z" fill="url(#ga)"/><polyline points="26.20,149.43 31.53,147.09 36.86,146.15 42.20,145.21 47.53,143.80 52.86,144.74 58.19,130.66 63.52,127.85 68.86,128.32 74.19,135.36 79.52,126.91 84.85,107.20 90.18,121.28 95.52,116.59 100.85,116.59 106.18,83.74 111.51,107.20 116.84,118.46 122.18,102.51 127.51,116.59 132.84,116.59 138.17,125.97 143.50,130.66 148.84,116.59 154.17,104.86 159.50,100.17 164.83,111.90 170.16,116.59 175.50,116.59 180.83,111.90 186.16,103.45 191.49,97.82 196.82,112.83 202.16,116.12 207.49,116.59 212.82,121.28 218.15,110.96 223.48,103.92 228.82,116.59 234.15,116.59 239.48,107.20 244.81,102.51 250.14,104.86 255.48,102.51 260.81,79.05 266.14,109.55 271.47,120.34 276.80,118.93 282.14,121.28 287.47,125.03 292.80,118.00 298.13,111.90 303.46,108.61 308.80,97.82 314.13,106.73 319.46,112.83" fill="none" stroke="#b06fe6" stroke-width="0.95" stroke-linejoin="round"/><polyline points="26.20,165.85 31.53,161.16 36.86,157.88 42.20,158.82 47.53,161.16 52.86,149.43 58.19,142.39 63.52,142.39 68.86,142.39 74.19,154.12 79.52,147.09 84.85,121.28 90.18,128.32 95.52,128.32 100.85,128.32 106.18,107.20 111.51,121.28 116.84,141.46 122.18,107.20 127.51,102.51 132.84,76.71 138.17,102.51 143.50,102.51 148.84,102.51 154.17,128.32 159.50,114.24 164.83,118.93 170.16,121.28 175.50,121.28 180.83,116.59 186.16,108.14 191.49,102.51 196.82,103.92 202.16,104.86 207.49,102.51 212.82,100.17 218.15,96.41 223.48,94.54 228.82,93.13 234.15,64.98 239.48,116.59 244.81,121.28 250.14,123.63 255.48,125.97 260.81,125.97 266.14,118.93 271.47,125.03 276.80,118.93 282.14,111.90 287.47,110.96 292.80,97.82 298.13,105.80 303.46,112.83 308.80,117.53 314.13,111.90 319.46,108.61 324.79,97.82" fill="none" stroke="#5a9bf5" stroke-width="0.95" stroke-linejoin="round"/></svg>
<div class="b" style="left:910.60px;top:234.60px;width:326.40px;height:393.00px;background:#0d1b32;border:2px solid #1c283d;border-radius:6.00px;"></div>
<div class="t" style="top:250.16px;font-size:14.40px;line-height:17.28px;color:#f2f5fa;-webkit-text-stroke:0.40px #f2f5fa;left:924.60px;transform:scaleX(0.9433);transform-origin:0 50%;">Visitors By Gender</div>
<svg class="b" style="left:910.60px;top:234.60px;" width="326.40" height="240.00" viewBox="0 0 163.2 120"><path d="M20.90,91.50 A60.4 60.4 0 0 1 85.15,31.22 L84.19,46.29 A45.3 45.3 0 0 0 36.00,91.50 Z" fill="#5c9eff" stroke="#0e1b31" stroke-width="0.6"/><path d="M85.15,31.22 A60.4 60.4 0 0 1 126.32,51.23 L115.07,61.30 A45.3 45.3 0 0 0 84.19,46.29 Z" fill="#b46ff2" stroke="#0e1b31" stroke-width="0.6"/><path d="M126.32,51.23 A60.4 60.4 0 0 1 140.27,78.43 L125.53,81.70 A45.3 45.3 0 0 0 115.07,61.30 Z" fill="#2fd080" stroke="#0e1b31" stroke-width="0.6"/><path d="M140.27,78.43 A60.4 60.4 0 0 1 141.70,91.50 L126.60,91.50 A45.3 45.3 0 0 0 125.53,81.70 Z" fill="#f170ad" stroke="#0e1b31" stroke-width="0.6"/></svg>
<div class="t" style="top:378.12px;font-size:10.80px;line-height:12.96px;color:#cfd6e2;left:1073.20px;width:0;display:flex;justify-content:center;"><span style="display:inline-block;transform:scaleX(1.0815);transform-origin:50% 50%;">Total Visitors</span></div>
<div class="t" style="top:393.64px;font-size:16.60px;line-height:19.92px;color:#f2f5fa;font-weight:700;left:1073.20px;width:0;display:flex;justify-content:center;"><span style="display:inline-block;transform:scaleX(1.0831);transform-origin:50% 50%;">3371</span></div>
<div class="b" style="left:911.60px;top:466.00px;width:324.80px;height:2.00px;background:#1c283d;"></div>
<div class="b" style="left:928.40px;top:488.20px;width:9.20px;height:9.20px;background:#5c9eff;border-radius:6.00px;"></div>
<div class="t" style="top:485.76px;font-size:11.40px;line-height:13.68px;color:#dfe5ee;-webkit-text-stroke:0.25px #dfe5ee;left:945.40px;transform:scaleX(0.9874);transform-origin:0 50%;">Male</div>
<div class="t" style="top:484.80px;font-size:14.00px;line-height:16.80px;color:#f2f5fa;-webkit-text-stroke:0.40px #f2f5fa;right:380.00px;transform:scaleX(0.9647);transform-origin:100% 50%;">1,754</div>
<div class="t" style="top:486.00px;font-size:12.00px;line-height:14.40px;color:#2fd080;-webkit-text-stroke:0.50px #2fd080;right:421.80px;transform:scaleX(0.9934);transform-origin:100% 50%;">0.75%</div>
<svg class="b" style="left:1136.20px;top:488.60px;" width="5.60" height="9.20" viewBox="0 0 2.8 4.6"><path d="M1.4 4.3 V0.7 M0.3 1.8 L1.4 0.6 L2.5 1.8" fill="none" stroke="#2fd080" stroke-width="0.7"/></svg>
<div class="b" style="left:928.40px;top:524.60px;width:9.20px;height:9.20px;background:#b46ff2;border-radius:6.00px;"></div>
<div class="t" style="top:522.16px;font-size:11.40px;line-height:13.68px;color:#dfe5ee;-webkit-text-stroke:0.25px #dfe5ee;left:945.40px;transform:scaleX(0.9996);transform-origin:0 50%;">Female</div>
<div class="t" style="top:521.20px;font-size:14.00px;line-height:16.80px;color:#f2f5fa;-webkit-text-stroke:0.40px #f2f5fa;right:380.00px;transform:scaleX(1.0959);transform-origin:100% 50%;">834</div>
<div class="t" style="top:522.40px;font-size:12.00px;line-height:14.40px;color:#e54c52;-webkit-text-stroke:0.50px #e54c52;right:413.60px;transform:scaleX(0.9346);transform-origin:100% 50%;">1.64%</div>
<svg class="b" style="left:1146.40px;top:525.00px;" width="5.60" height="9.20" viewBox="0 0 2.8 4.6"><path d="M1.4 0.3 V3.9 M0.3 2.8 L1.4 4 L2.5 2.8" fill="none" stroke="#e54c52" stroke-width="0.7"/></svg>
<div class="b" style="left:928.40px;top:561.00px;width:9.20px;height:9.20px;background:#2fd080;border-radius:6.00px;"></div>
<div class="t" style="top:558.56px;font-size:11.40px;line-height:13.68px;color:#dfe5ee;-webkit-text-stroke:0.25px #dfe5ee;left:945.40px;transform:scaleX(1.0523);transform-origin:0 50%;">Others</div>
<div class="t" style="top:557.60px;font-size:14.00px;line-height:16.80px;color:#f2f5fa;-webkit-text-stroke:0.40px #f2f5fa;right:380.00px;transform:scaleX(1.0788);transform-origin:100% 50%;">549</div>
<div class="t" style="top:558.80px;font-size:12.00px;line-height:14.40px;color:#e54c52;-webkit-text-stroke:0.50px #e54c52;right:413.20px;transform:scaleX(0.9934);transform-origin:100% 50%;">2.64%</div>
<svg class="b" style="left:1144.80px;top:561.40px;" width="5.60" height="9.20" viewBox="0 0 2.8 4.6"><path d="M1.4 0.3 V3.9 M0.3 2.8 L1.4 4 L2.5 2.8" fill="none" stroke="#e54c52" stroke-width="0.7"/></svg>
<div class="b" style="left:928.40px;top:597.40px;width:9.20px;height:9.20px;background:#f170ad;border-radius:6.00px;"></div>
<div class="t" style="top:594.96px;font-size:11.40px;line-height:13.68px;color:#dfe5ee;-webkit-text-stroke:0.25px #dfe5ee;left:945.40px;transform:scaleX(1.0520);transform-origin:0 50%;">Not mentioned</div>
<div class="t" style="top:594.00px;font-size:14.00px;line-height:16.80px;color:#f2f5fa;-webkit-text-stroke:0.40px #f2f5fa;right:380.00px;transform:scaleX(1.0959);transform-origin:100% 50%;">234</div>
<div class="t" style="top:595.20px;font-size:12.00px;line-height:14.40px;color:#2fd080;-webkit-text-stroke:0.50px #2fd080;right:413.60px;transform:scaleX(1.0286);transform-origin:100% 50%;">0.64%</div>
<svg class="b" style="left:1143.20px;top:597.80px;" width="5.60" height="9.20" viewBox="0 0 2.8 4.6"><path d="M1.4 4.3 V0.7 M0.3 1.8 L1.4 0.6 L2.5 1.8" fill="none" stroke="#2fd080" stroke-width="0.7"/></svg>
<div class="b" style="left:1256.40px;top:121.00px;width:327.00px;height:165.00px;background:#102240;border-radius:6.00px;overflow:hidden;"></div>
<svg class="b" style="left:1256.40px;top:121.00px;overflow:hidden;border-radius:6px;" width="327.00" height="165.00" viewBox="0 0 163.5 82.5"><path d="M-11.7 91.1 C26.5 67.7 75.4 40.1 92.8 10.4 S115.8 -6.6 171.0 -0.3" fill="none" stroke="#1c3459" stroke-width="0.3"/><path d="M-8.8 91.1 C28.4 67.2 76.0 40.1 93.3 10.5 S116.7 -5.0 171.0 2.6" fill="none" stroke="#1c3459" stroke-width="0.3"/><path d="M-5.9 91.1 C30.3 66.7 76.7 40.1 93.7 10.7 S117.5 -3.4 171.0 5.5" fill="none" stroke="#1c3459" stroke-width="0.3"/><path d="M-3.1 91.1 C32.2 66.2 77.3 40.1 94.2 10.9 S118.4 -1.8 171.0 8.4" fill="none" stroke="#1c3459" stroke-width="0.3"/><path d="M-0.2 91.1 C34.0 65.7 77.9 40.1 94.6 11.1 S119.3 -0.1 171.0 11.2" fill="none" stroke="#1c3459" stroke-width="0.3"/><path d="M2.7 91.1 C35.9 65.2 78.5 40.1 95.1 11.2 S120.2 1.5 171.0 14.1" fill="none" stroke="#1c3459" stroke-width="0.3"/><path d="M5.5 91.1 C37.8 64.7 79.2 40.1 95.5 11.4 S121.0 3.1 171.0 17.0" fill="none" stroke="#1c3459" stroke-width="0.3"/><path d="M8.4 91.1 C39.7 64.2 79.8 40.1 96.0 11.6 S121.9 4.7 171.0 19.9" fill="none" stroke="#1c3459" stroke-width="0.3"/><path d="M11.3 91.1 C41.5 63.7 80.4 40.1 96.4 11.8 S122.8 6.4 171.0 22.7" fill="none" stroke="#1c3459" stroke-width="0.3"/><path d="M14.2 91.1 C43.4 63.2 81.0 40.1 96.9 11.9 S123.7 8.0 171.0 25.6" fill="none" stroke="#1c3459" stroke-width="0.3"/><path d="M17.0 91.1 C45.3 62.7 81.7 40.1 97.3 12.1 S124.5 9.6 171.0 28.5" fill="none" stroke="#1c3459" stroke-width="0.3"/><path d="M19.9 91.1 C47.2 62.2 82.3 40.1 97.8 12.3 S125.4 11.2 171.0 31.4" fill="none" stroke="#1c3459" stroke-width="0.3"/><path d="M22.8 91.1 C49.0 61.7 82.9 40.1 98.2 12.5 S126.3 12.9 171.0 34.2" fill="none" stroke="#1c3459" stroke-width="0.3"/><path d="M25.7 91.1 C50.9 61.2 83.5 40.1 98.7 12.6 S127.2 14.5 171.0 37.1" fill="none" stroke="#1c3459" stroke-width="0.3"/><path d="M28.5 91.1 C52.8 60.7 84.2 40.1 99.1 12.8 S128.0 16.1 171.0 40.0" fill="none" stroke="#1c3459" stroke-width="0.3"/><path d="M31.4 91.1 C54.7 60.2 84.8 40.1 99.6 13.0 S128.9 17.7 171.0 42.9" fill="none" stroke="#1c3459" stroke-width="0.3"/><path d="M34.3 91.1 C56.5 59.7 85.4 40.1 100.0 13.2 S129.8 19.4 171.0 45.7" fill="none" stroke="#1c3459" stroke-width="0.3"/><path d="M37.2 91.1 C58.4 59.2 86.0 40.1 100.5 13.3 S130.7 21.0 171.0 48.6" fill="none" stroke="#1c3459" stroke-width="0.3"/></svg>
<div class="t" style="top:145.76px;font-size:18.40px;line-height:22.08px;color:#f2f5fa;-webkit-text-stroke:0.60px #f2f5fa;left:1284.00px;transform:scaleX(1.0014);transform-origin:0 50%;">Upgrade to get more</div>
<div class="t" style="top:176.36px;font-size:11.40px;line-height:13.68px;color:#c3cbd8;left:1284.00px;transform:scaleX(1.0083);transform-origin:0 50%;">Enhance your experience with</div>
<div class="t" style="top:193.06px;font-size:11.40px;line-height:13.68px;color:#c3cbd8;left:1284.00px;transform:scaleX(1.0162);transform-origin:0 50%;">advanced tools. Gain access to</div>
<div class="t" style="top:209.76px;font-size:11.40px;line-height:13.68px;color:#c3cbd8;left:1284.00px;transform:scaleX(1.0201);transform-origin:0 50%;">exclusive features now!"</div>
<div class="t" style="top:244.36px;font-size:11.40px;line-height:13.68px;color:#5c9eff;left:1284.00px;transform:scaleX(1.0171);transform-origin:0 50%;">Upgrade To Pro</div>
<div class="b" style="left:1284.00px;top:256.40px;width:91.00px;height:1.00px;background:#5c9eff;"></div>
<svg class="b" style="left:1366.60px;top:248.40px;" width="8.80" height="6.00" viewBox="0 0 4.4 3"><path d="M0.4 1.5 H3.6 M2.5 0.5 L3.6 1.5 L2.5 2.5" fill="none" stroke="#5c9eff" stroke-width="0.5"/></svg>
<svg class="b" style="left:1460.00px;top:130.00px;" width="140.00" height="140.00" viewBox="0 0 600 600">
<path d="M165 240 H214 V500 H160 Z" fill="#c8d0de"/>
<rect x="135" y="497" width="108" height="17" rx="5" fill="#d5dbe6"/>
<path d="M212 500 V196 H196 L245 110 L306 196 H290 V500 Z" fill="#a9c3f3"/>
<path d="M262 230 H290 M270 260 H290 M262 290 H290 M270 320 H290" stroke="#8fb0ea" stroke-width="4"/>
<ellipse cx="150" cy="183" rx="24" ry="12" fill="#a9c3f3"/>
<ellipse cx="270" cy="180" rx="32" ry="14" fill="#bcd1f7"/>
<ellipse cx="205" cy="265" rx="14" ry="8" fill="#a9c3f3"/>
<ellipse cx="152" cy="330" rx="10" ry="6" fill="#a9c3f3"/>
<path d="M183 106 Q207 140 199 215 H167 Q159 140 183 106Z" fill="#1f7bf0"/>
<circle cx="183" cy="148" r="8.5" fill="#0f2a55"/>
<path d="M166 188 L146 216 L167 212Z M200 188 L222 216 L199 212Z" fill="#1c2b45"/>
<path d="M169 218 H198 L191 248 Q183 258 176 248Z" fill="#6aa5f8"/>
<path d="M110 472 Q78 430 95 392 Q114 422 110 472Z M110 472 Q104 420 121 386 Q130 430 110 472Z M110 472 Q132 452 137 418 Q117 432 110 472Z" fill="#1f7bf0"/>
<rect x="91" y="478" width="38" height="33" rx="5" fill="#15233b"/>
<circle cx="252" cy="345" r="19" fill="#e9a58a"/>
<path d="M231 347 Q228 318 254 319 Q277 321 273 347 Q258 330 231 347Z" fill="#13233d"/>
<rect x="223" y="385" width="11" height="56" rx="5" fill="#e9a58a"/><rect x="286" y="385" width="11" height="56" rx="5" fill="#e9a58a"/>
<path d="M228 388 Q228 375 241 375 H279 Q292 375 292 388 V426 H228Z" fill="#1f7bf0"/>
<rect x="236" y="425" width="50" height="46" fill="#13233d"/>
<rect x="242" y="470" width="13" height="36" fill="#e9a58a"/><rect x="266" y="470" width="13" height="36" fill="#e9a58a"/>
<circle cx="350" cy="252" r="20" fill="#e9a58a"/>
<path d="M321 252 Q316 214 350 214 Q377 217 373 242 Q350 232 341 264 Q326 264 321 252Z" fill="#13233d"/>
<path d="M345 292 L278 311 L281 325 L350 320Z" fill="#b4cdf7"/>
<path d="M334 292 Q345 268 390 265 Q416 268 421 300 L433 360 L372 369 Z" fill="#b4cdf7"/>
<path d="M336 330 L298 386 L309 394 L352 346Z" fill="#e9a58a"/>
<path d="M372 368 L433 360 Q442 400 431 430 L446 484 L520 487 Q530 500 516 506 L420 509 L384 421 L341 426 L357 496 L336 506 L300 402 Q300 386 320 386 Z" fill="#1f7bf0"/>
<rect x="352" y="142" width="63" height="52" rx="11" fill="#dfe8f7"/>
<path d="M370 192 L377 206 L389 192Z" fill="#dfe8f7"/>
<circle cx="383" cy="168" r="19" fill="#1f7bf0"/>
</svg>
<div class="b" style="left:1256.40px;top:305.00px;width:327.00px;height:371.60px;background:#0d1b32;border:2px solid #1c283d;border-radius:6.00px;"></div>
<div class="t" style="top:321.96px;font-size:14.40px;line-height:17.28px;color:#f2f5fa;-webkit-text-stroke:0.40px #f2f5fa;left:1271.00px;transform:scaleX(0.9446);transform-origin:0 50%;">Recent Transactions</div>
<div class="b" style="left:1511.80px;top:319.60px;width:57.40px;height:21.60px;background:#1b283d;border-radius:4.00px;"></div>
<div class="t" style="top:323.60px;font-size:11.00px;line-height:13.20px;color:#bcc5d2;left:1515.60px;transform:scaleX(0.9499);transform-origin:0 50%;">View All</div>
<svg class="b" style="left:1556.40px;top:327.20px;" width="8.00" height="6.00" viewBox="0 0 4 3"><path d="M0.4 1.5 H3.4 M2.3 0.5 L3.4 1.5 L2.3 2.5" fill="none" stroke="#c3cbd8" stroke-width="0.6"/></svg>
<svg class="b" style="left:1270.20px;top:366.20px;" width="34.80" height="34.80" viewBox="0 0 100 100"><defs><clipPath id="pc0"><circle cx="50" cy="50" r="50"/></clipPath></defs><g clip-path="url(#pc0)"><rect width="100" height="100" fill="#ec8257"/><ellipse cx="50" cy="56" rx="22" ry="17" fill="#f59a48"/><path d="M24 64 Q18 20 50 20 Q82 20 77 62" stroke="#2b1a44" stroke-width="10" fill="none"/><ellipse cx="27" cy="68" rx="12" ry="16" fill="#6f2b94" transform="rotate(-18 27 68)"/><ellipse cx="75" cy="63" rx="12" ry="17" fill="#b12d8e" transform="rotate(14 75 63)"/><ellipse cx="24" cy="70" rx="6" ry="11" fill="#3a1d5c" transform="rotate(-18 24 70)"/></g></svg>
<div class="t" style="top:370.64px;font-size:11.60px;line-height:13.92px;color:#eef1f6;-webkit-text-stroke:0.30px #eef1f6;left:1311.00px;transform:scaleX(1.0134);transform-origin:0 50%;">Wireless Headphones</div>
<div class="t" style="top:386.32px;font-size:10.80px;line-height:12.96px;color:#8a97ab;left:1311.00px;transform:scaleX(1.0535);transform-origin:0 50%;">2024-10-08, 14:35</div>
<div class="t" style="top:372.32px;font-size:10.80px;line-height:12.96px;color:#e54c52;-webkit-text-stroke:0.40px #e54c52;right:30.80px;transform:scaleX(0.9631);transform-origin:100% 50%;">$150.00</div>
<div class="t" style="top:389.04px;font-size:8.60px;line-height:10.32px;color:#2fd080;font-weight:700;right:36.80px;">Paid</div>
<svg class="b" style="left:1270.20px;top:418.26px;" width="34.80" height="34.80" viewBox="0 0 100 100"><defs><clipPath id="pc1"><circle cx="50" cy="50" r="50"/></clipPath></defs><g clip-path="url(#pc1)"><rect width="100" height="100" fill="#9fc0c8"/><circle cx="50" cy="46" r="40" fill="#dcebee"/><g transform="rotate(-14 50 50)"><rect x="38" y="10" width="25" height="82" rx="8" fill="#2b7fd4"/><rect x="33" y="28" width="35" height="42" rx="6" fill="#1c2838"/><rect x="38" y="33" width="25" height="31" rx="2" fill="#3d4e68"/></g></g></svg>
<div class="t" style="top:422.70px;font-size:11.60px;line-height:13.92px;color:#eef1f6;-webkit-text-stroke:0.30px #eef1f6;left:1311.00px;transform:scaleX(1.0614);transform-origin:0 50%;">Smartwatch</div>
<div class="t" style="top:438.38px;font-size:10.80px;line-height:12.96px;color:#8a97ab;left:1311.00px;transform:scaleX(1.0535);transform-origin:0 50%;">2024-10-08, 13:20</div>
<div class="t" style="top:424.38px;font-size:10.80px;line-height:12.96px;color:#5c9eff;-webkit-text-stroke:0.40px #5c9eff;right:30.80px;transform:scaleX(0.9631);transform-origin:100% 50%;">$275.50</div>
<div class="t" style="top:441.10px;font-size:8.60px;line-height:10.32px;color:#f0812f;font-weight:700;right:36.80px;">Pending</div>
<svg class="b" style="left:1270.20px;top:470.32px;" width="34.80" height="34.80" viewBox="0 0 100 100"><defs><clipPath id="pc2"><circle cx="50" cy="50" r="50"/></clipPath></defs><g clip-path="url(#pc2)"><rect width="100" height="100" fill="#f1aaa6"/><path d="M38 30 L82 38 L74 66 L32 57Z" fill="#e3a9bd"/><path d="M42 35 L77 41 L71 61 L38 54Z" fill="#f3cdd6"/><path d="M32 57 L74 66 L58 84 L12 72Z" fill="#f6eaee"/><path d="M12 72 L58 84 L58 88 L12 76Z" fill="#d9c2cc"/></g></svg>
<div class="t" style="top:474.76px;font-size:11.60px;line-height:13.92px;color:#eef1f6;-webkit-text-stroke:0.30px #eef1f6;left:1311.00px;transform:scaleX(1.0338);transform-origin:0 50%;">Gaming Laptop</div>
<div class="t" style="top:490.44px;font-size:10.80px;line-height:12.96px;color:#8a97ab;left:1311.00px;transform:scaleX(1.0535);transform-origin:0 50%;">2024-10-08, 12:05</div>
<div class="t" style="top:476.44px;font-size:10.80px;line-height:12.96px;color:#5c9eff;-webkit-text-stroke:0.40px #5c9eff;right:30.80px;transform:scaleX(0.9631);transform-origin:100% 50%;">$250.00</div>
<div class="t" style="top:493.16px;font-size:8.60px;line-height:10.32px;color:#2fd080;font-weight:700;right:36.80px;">Paid</div>
<svg class="b" style="left:1270.20px;top:522.38px;" width="34.80" height="34.80" viewBox="0 0 100 100"><defs><clipPath id="pc3"><circle cx="50" cy="50" r="50"/></clipPath></defs><g clip-path="url(#pc3)"><rect width="100" height="100" fill="#f1f3f8"/><rect x="32" y="13" width="36" height="74" rx="6" fill="#1f2b46"/><rect x="37" y="20" width="26" height="60" rx="3" fill="#2d3c5e"/><path d="M40 30 L60 40 M40 42 L60 52 M40 54 L60 64 M40 66 L60 76" stroke="#7f8fb3" stroke-width="3"/><circle cx="50" cy="50" r="49" fill="none" stroke="#cdd5e3" stroke-width="3"/></g></svg>
<div class="t" style="top:526.82px;font-size:11.60px;line-height:13.92px;color:#eef1f6;-webkit-text-stroke:0.30px #eef1f6;left:1311.00px;transform:scaleX(1.0372);transform-origin:0 50%;">Bluetooth Speaker</div>
<div class="t" style="top:542.50px;font-size:10.80px;line-height:12.96px;color:#8a97ab;left:1311.00px;transform:scaleX(1.0632);transform-origin:0 50%;">2024-10-08, 11:50</div>
<div class="t" style="top:528.50px;font-size:10.80px;line-height:12.96px;color:#b46ff2;-webkit-text-stroke:0.40px #b46ff2;right:30.80px;transform:scaleX(0.9631);transform-origin:100% 50%;">$120.00</div>
<div class="t" style="top:545.22px;font-size:8.60px;line-height:10.32px;color:#2fd080;font-weight:700;right:36.80px;">Paid</div>
<svg class="b" style="left:1270.20px;top:574.44px;" width="34.80" height="34.80" viewBox="0 0 100 100"><defs><clipPath id="pc4"><circle cx="50" cy="50" r="50"/></clipPath></defs><g clip-path="url(#pc4)"><rect width="100" height="100" fill="#62b7ec"/><circle cx="46" cy="42" r="38" fill="#a9ddfb"/><rect x="40" y="10" width="21" height="82" rx="7" fill="#2a2f3c"/><rect x="33" y="28" width="35" height="46" rx="8" fill="#1a1e29"/><rect x="39" y="35" width="23" height="31" rx="3" fill="#2f3646"/></g></svg>
<div class="t" style="top:578.88px;font-size:11.60px;line-height:13.92px;color:#eef1f6;-webkit-text-stroke:0.30px #eef1f6;left:1311.00px;transform:scaleX(0.9964);transform-origin:0 50%;">Fitness Tracker</div>
<div class="t" style="top:594.56px;font-size:10.80px;line-height:12.96px;color:#8a97ab;left:1311.00px;transform:scaleX(1.0535);transform-origin:0 50%;">2024-10-08, 10:30</div>
<div class="t" style="top:580.56px;font-size:10.80px;line-height:12.96px;color:#5c9eff;-webkit-text-stroke:0.40px #5c9eff;right:30.80px;transform:scaleX(0.9631);transform-origin:100% 50%;">$160.00</div>
<div class="t" style="top:597.28px;font-size:8.60px;line-height:10.32px;color:#e54c52;font-weight:700;right:36.80px;">Failed</div>
<svg class="b" style="left:1270.20px;top:626.50px;" width="34.80" height="34.80" viewBox="0 0 100 100"><defs><clipPath id="pc5"><circle cx="50" cy="50" r="50"/></clipPath></defs><g clip-path="url(#pc5)"><rect width="100" height="100" fill="#fbcf8b"/><path d="M34 30 H60 L64 38 H34Z" fill="#c9472a"/><rect x="20" y="36" width="62" height="44" rx="7" fill="#e2582f"/><rect x="20" y="36" width="62" height="9" rx="4" fill="#ef7d4a"/><circle cx="48" cy="60" r="16" fill="#f4eee6"/><circle cx="48" cy="60" r="10" fill="#2a4d70"/><circle cx="45" cy="57" r="3" fill="#8fb6d8"/><rect x="68" y="48" width="8" height="6" rx="1" fill="#f6d9a6"/></g></svg>
<div class="t" style="top:630.94px;font-size:11.60px;line-height:13.92px;color:#eef1f6;-webkit-text-stroke:0.30px #eef1f6;left:1311.00px;transform:scaleX(0.9546);transform-origin:0 50%;">DSLR Camera</div>
<div class="t" style="top:646.62px;font-size:10.80px;line-height:12.96px;color:#8a97ab;left:1311.00px;transform:scaleX(1.0535);transform-origin:0 50%;">2024-10-08, 14:35</div>
<div class="t" style="top:632.62px;font-size:10.80px;line-height:12.96px;color:#f0812f;-webkit-text-stroke:0.40px #f0812f;right:30.80px;transform:scaleX(0.9631);transform-origin:100% 50%;">$150.00</div>
<div class="t" style="top:649.34px;font-size:8.60px;line-height:10.32px;color:#2fd080;font-weight:700;right:36.80px;">Paid</div>
<div class="b" style="left:218.00px;top:646.60px;width:325.60px;height:374.40px;background:#0d1b32;border:2px solid #1c283d;border-radius:6.00px;"></div>
<div class="t" style="top:669.36px;font-size:14.40px;line-height:17.28px;color:#f2f5fa;-webkit-text-stroke:0.40px #f2f5fa;left:232.00px;transform:scaleX(0.9521);transform-origin:0 50%;">Visitors By Countries</div>
<div class="b" style="left:458.80px;top:663.40px;width:69.00px;height:26.00px;background:#17294a;border-radius:4.00px;"></div>
<div class="t" style="top:670.24px;font-size:10.60px;line-height:12.72px;color:#5c9eff;font-weight:700;left:466.00px;transform:scaleX(0.9236);transform-origin:0 50%;">View All</div>
<svg class="b" style="left:510.40px;top:673.20px;" width="10.80" height="6.80" viewBox="0 0 5.4 3.4"><path d="M1.9 0.5 L0.6 1.7 L1.9 2.9 M3.5 0.5 L4.8 1.7 L3.5 2.9" fill="none" stroke="#5c9eff" stroke-width="0.55"/></svg>
<div class="t" style="top:723.20px;font-size:12.00px;line-height:14.40px;color:#eef1f6;-webkit-text-stroke:0.30px #eef1f6;left:234.00px;transform:scaleX(1.0320);transform-origin:0 50%;">Countries</div>
<div class="t" style="top:723.20px;font-size:12.00px;line-height:14.40px;color:#eef1f6;-webkit-text-stroke:0.30px #eef1f6;left:371.40px;transform:scaleX(1.0590);transform-origin:0 50%;">Percentage</div>
<div class="t" style="top:723.20px;font-size:12.00px;line-height:14.40px;color:#eef1f6;-webkit-text-stroke:0.30px #eef1f6;left:476.60px;transform:scaleX(1.0479);transform-origin:0 50%;">Visitors</div>
<div class="b" style="left:219.00px;top:748.40px;width:323.60px;height:2.00px;background:#1c283d;"></div>
<svg class="b" style="left:232.60px;top:761.80px;" width="18.00" height="18.00" viewBox="0 0 9 9"><defs><clipPath id="fc0"><circle cx="4.5" cy="4.5" r="4.4"/></clipPath></defs><g clip-path="url(#fc0)"><rect width="9" height="9" fill="#f0f0f0"/><rect y="0.00" width="9" height="0.7" fill="#d8414b"/><rect y="1.40" width="9" height="0.7" fill="#d8414b"/><rect y="2.80" width="9" height="0.7" fill="#d8414b"/><rect y="4.20" width="9" height="0.7" fill="#d8414b"/><rect y="5.60" width="9" height="0.7" fill="#d8414b"/><rect y="7.00" width="9" height="0.7" fill="#d8414b"/><rect y="8.40" width="9" height="0.7" fill="#d8414b"/><rect width="4.5" height="4.6" fill="#3f4fa0"/></g></svg>
<div class="t" style="top:764.32px;font-size:11.80px;line-height:14.16px;color:#f2f5fa;-webkit-text-stroke:0.45px #f2f5fa;left:257.40px;transform:scaleX(0.9938);transform-origin:0 50%;">United States</div>
<div class="t" style="top:763.96px;font-size:11.40px;line-height:13.68px;color:#2fd080;-webkit-text-stroke:0.45px #2fd080;left:371.60px;transform:scaleX(1.0501);transform-origin:0 50%;">24.23%</div>
<svg class="b" style="left:418.60px;top:766.40px;" width="6.00" height="8.00" viewBox="0 0 3 4"><path d="M1.5 3.6 V0.8 M0.3 1.9 L1.5 0.6 L2.7 1.9" fill="none" stroke="#2fd080" stroke-width="0.75"/></svg>
<div class="t" style="top:764.08px;font-size:11.20px;line-height:13.44px;color:#f2f5fa;-webkit-text-stroke:0.45px #f2f5fa;left:476.80px;transform:scaleX(0.9633);transform-origin:0 50%;">32,190</div>
<div class="b" style="left:219.00px;top:792.00px;width:323.60px;height:2.00px;background:#1c283d;"></div>
<svg class="b" style="left:232.60px;top:806.20px;" width="18.00" height="18.00" viewBox="0 0 9 9"><defs><clipPath id="fc1"><circle cx="4.5" cy="4.5" r="4.4"/></clipPath></defs><g clip-path="url(#fc1)"><rect width="9" height="9" fill="#f0f0f0"/><rect width="9" height="3" fill="#5aa7e6"/><rect y="6" width="9" height="3" fill="#5aa7e6"/><circle cx="4.5" cy="4.5" r="0.8" fill="#f2b233"/></g></svg>
<div class="t" style="top:808.72px;font-size:11.80px;line-height:14.16px;color:#f2f5fa;-webkit-text-stroke:0.45px #f2f5fa;left:257.40px;transform:scaleX(1.0017);transform-origin:0 50%;">Argentina</div>
<div class="t" style="top:808.36px;font-size:11.40px;line-height:13.68px;color:#e54c52;-webkit-text-stroke:0.45px #e54c52;left:371.60px;transform:scaleX(0.9673);transform-origin:0 50%;">12.45%</div>
<svg class="b" style="left:416.60px;top:811.20px;" width="6.00" height="8.00" viewBox="0 0 3 4"><path d="M1.5 0.6 V3.2 M0.4 2.2 L1.5 3.4 L2.6 2.2" fill="none" stroke="#e54c52" stroke-width="0.75"/></svg>
<div class="t" style="top:808.48px;font-size:11.20px;line-height:13.44px;color:#f2f5fa;-webkit-text-stroke:0.45px #f2f5fa;left:476.80px;transform:scaleX(1.0621);transform-origin:0 50%;">123/985</div>
<div class="b" style="left:219.00px;top:836.40px;width:323.60px;height:2.00px;background:#1c283d;"></div>
<svg class="b" style="left:232.60px;top:850.60px;" width="18.00" height="18.00" viewBox="0 0 9 9"><defs><clipPath id="fc2"><circle cx="4.5" cy="4.5" r="4.4"/></clipPath></defs><g clip-path="url(#fc2)"><rect width="9" height="9" fill="#f0f0f0"/><rect width="2.4" height="9" fill="#d80027"/><rect x="6.6" width="2.4" height="9" fill="#d80027"/><path d="M4.5 2.4 L5.4 4 L6.2 4.4 L5.2 5.6 L4.5 6.6 L3.8 5.6 L2.8 4.4 L3.6 4Z" fill="#d80027"/></g></svg>
<div class="t" style="top:853.12px;font-size:11.80px;line-height:14.16px;color:#f2f5fa;-webkit-text-stroke:0.45px #f2f5fa;left:257.40px;transform:scaleX(1.0741);transform-origin:0 50%;">Canada</div>
<div class="t" style="top:852.76px;font-size:11.40px;line-height:13.68px;color:#2fd080;-webkit-text-stroke:0.45px #2fd080;left:371.60px;transform:scaleX(1.0501);transform-origin:0 50%;">06.64%</div>
<svg class="b" style="left:418.60px;top:855.20px;" width="6.00" height="8.00" viewBox="0 0 3 4"><path d="M1.5 3.6 V0.8 M0.3 1.9 L1.5 0.6 L2.7 1.9" fill="none" stroke="#2fd080" stroke-width="0.75"/></svg>
<div class="t" style="top:852.88px;font-size:11.20px;line-height:13.44px;color:#f2f5fa;-webkit-text-stroke:0.45px #f2f5fa;left:476.80px;transform:scaleX(1.0217);transform-origin:0 50%;">10,397</div>
<div class="b" style="left:219.00px;top:880.80px;width:323.60px;height:2.00px;background:#1c283d;"></div>
<svg class="b" style="left:232.60px;top:895.00px;" width="18.00" height="18.00" viewBox="0 0 9 9"><defs><clipPath id="fc3"><circle cx="4.5" cy="4.5" r="4.4"/></clipPath></defs><g clip-path="url(#fc3)"><rect width="9" height="9" fill="#f0f0f0"/><rect width="9" height="3" fill="#ff9811"/><rect y="6" width="9" height="3" fill="#6da544"/><circle cx="4.5" cy="4.5" r="0.9" fill="none" stroke="#2a4ea0" stroke-width="0.4"/></g></svg>
<div class="t" style="top:897.52px;font-size:11.80px;line-height:14.16px;color:#f2f5fa;-webkit-text-stroke:0.45px #f2f5fa;left:257.40px;transform:scaleX(1.0708);transform-origin:0 50%;">India</div>
<div class="t" style="top:897.16px;font-size:11.40px;line-height:13.68px;color:#2fd080;-webkit-text-stroke:0.45px #2fd080;left:371.60px;transform:scaleX(1.0501);transform-origin:0 50%;">14.42%</div>
<svg class="b" style="left:418.60px;top:899.60px;" width="6.00" height="8.00" viewBox="0 0 3 4"><path d="M1.5 3.6 V0.8 M0.3 1.9 L1.5 0.6 L2.7 1.9" fill="none" stroke="#2fd080" stroke-width="0.75"/></svg>
<div class="t" style="top:897.28px;font-size:11.20px;line-height:13.44px;color:#f2f5fa;-webkit-text-stroke:0.45px #f2f5fa;left:476.80px;transform:scaleX(1.0217);transform-origin:0 50%;">18,694</div>
<div class="b" style="left:219.00px;top:925.20px;width:323.60px;height:2.00px;background:#1c283d;"></div>
<svg class="b" style="left:232.60px;top:939.40px;" width="18.00" height="18.00" viewBox="0 0 9 9"><defs><clipPath id="fc4"><circle cx="4.5" cy="4.5" r="4.4"/></clipPath></defs><g clip-path="url(#fc4)"><rect width="9" height="9" fill="#f0f0f0"/><rect width="3" height="9" fill="#6da544"/><rect x="6" width="3" height="9" fill="#d80027"/></g></svg>
<div class="t" style="top:941.92px;font-size:11.80px;line-height:14.16px;color:#f2f5fa;-webkit-text-stroke:0.45px #f2f5fa;left:257.40px;transform:scaleX(1.1090);transform-origin:0 50%;">Italy</div>
<div class="t" style="top:941.56px;font-size:11.40px;line-height:13.68px;color:#2fd080;-webkit-text-stroke:0.45px #2fd080;left:371.60px;transform:scaleX(1.0501);transform-origin:0 50%;">06.64%</div>
<svg class="b" style="left:418.60px;top:944.00px;" width="6.00" height="8.00" viewBox="0 0 3 4"><path d="M1.5 3.6 V0.8 M0.3 1.9 L1.5 0.6 L2.7 1.9" fill="none" stroke="#2fd080" stroke-width="0.75"/></svg>
<div class="t" style="top:941.68px;font-size:11.20px;line-height:13.44px;color:#f2f5fa;-webkit-text-stroke:0.45px #f2f5fa;left:476.80px;transform:scaleX(1.0217);transform-origin:0 50%;">15,386</div>
<div class="b" style="left:219.00px;top:969.60px;width:323.60px;height:2.00px;background:#1c283d;"></div>
<svg class="b" style="left:232.60px;top:983.80px;" width="18.00" height="18.00" viewBox="0 0 9 9"><defs><clipPath id="fc5"><circle cx="4.5" cy="4.5" r="4.4"/></clipPath></defs><g clip-path="url(#fc5)"><rect width="9" height="9" fill="#d80027"/><rect width="9" height="3" fill="#333"/><rect y="6" width="9" height="3" fill="#ffda44"/></g></svg>
<div class="t" style="top:986.32px;font-size:11.80px;line-height:14.16px;color:#f2f5fa;-webkit-text-stroke:0.45px #f2f5fa;left:257.40px;transform:scaleX(1.0716);transform-origin:0 50%;">Germany</div>
<div class="t" style="top:985.96px;font-size:11.40px;line-height:13.68px;color:#2fd080;-webkit-text-stroke:0.45px #2fd080;left:371.60px;transform:scaleX(1.0501);transform-origin:0 50%;">06.64%</div>
<svg class="b" style="left:418.60px;top:988.40px;" width="6.00" height="8.00" viewBox="0 0 3 4"><path d="M1.5 3.6 V0.8 M0.3 1.9 L1.5 0.6 L2.7 1.9" fill="none" stroke="#2fd080" stroke-width="0.75"/></svg>
<div class="t" style="top:986.08px;font-size:11.20px;line-height:13.44px;color:#f2f5fa;-webkit-text-stroke:0.45px #f2f5fa;left:476.80px;transform:scaleX(0.9925);transform-origin:0 50%;">17,479</div>
<div class="b" style="left:564.60px;top:646.60px;width:326.00px;height:374.40px;background:#0d1b32;border:2px solid #1c283d;border-radius:6.00px;"></div>
<div class="t" style="top:663.16px;font-size:14.40px;line-height:17.28px;color:#f2f5fa;-webkit-text-stroke:0.40px #f2f5fa;left:578.40px;transform:scaleX(0.9151);transform-origin:0 50%;">Sales Summary</div>
<div class="t" style="top:664.76px;font-size:10.40px;line-height:12.48px;color:#7e8ca2;left:820.40px;transform:scaleX(0.9677);transform-origin:0 50%;">Sort By</div>
<svg class="b" style="left:860.00px;top:668.40px;" width="8.00" height="6.00" viewBox="0 0 4 3"><path d="M0.6 0.8 L2 2.2 L3.4 0.8" fill="none" stroke="#7e8ca2" stroke-width="0.55"/></svg>
<svg class="b" style="left:564.60px;top:647.00px;" width="326.00" height="286.00" viewBox="0 0 163 143"><circle cx="81.00" cy="82.80" r="12.00" fill="none" stroke="#263142" stroke-width="0.6"/><circle cx="81.00" cy="82.80" r="24.00" fill="none" stroke="#263142" stroke-width="0.6"/><circle cx="81.00" cy="82.80" r="36.00" fill="none" stroke="#263142" stroke-width="0.6"/><circle cx="81.00" cy="82.80" r="48.00" fill="none" stroke="#263142" stroke-width="0.6"/><path d="M81.00 82.80 L81.00 49.20 A33.60 33.60 0 0 1 110.10 66.00 Z" fill="#5c9eff" stroke="#0e1b31" stroke-width="0.7"/><path d="M81.00 82.80 L118.41 61.20 A43.20 43.20 0 0 1 118.41 104.40 Z" fill="#8558bf" stroke="#0e1b31" stroke-width="0.7"/><path d="M81.00 82.80 L116.33 103.20 A40.80 40.80 0 0 1 81.00 123.60 Z" fill="#25a06a" stroke="#0e1b31" stroke-width="0.7"/><path d="M81.00 82.80 L81.00 118.80 A36.00 36.00 0 0 1 49.82 100.80 Z" fill="#b46398" stroke="#0e1b31" stroke-width="0.7"/><path d="M81.00 82.80 L56.06 97.20 A28.80 28.80 0 0 1 56.06 68.40 Z" fill="#a5364e" stroke="#0e1b31" stroke-width="0.7"/><path d="M81.00 82.80 L60.22 70.80 A24.00 24.00 0 0 1 81.00 58.80 Z" fill="#c16e29" stroke="#0e1b31" stroke-width="0.7"/><line x1="81.00" y1="82.80" x2="81.00" y2="34.80" stroke="#2a3547" stroke-width="0.5"/><line x1="81.00" y1="82.80" x2="122.57" y2="58.80" stroke="#2a3547" stroke-width="0.5"/><line x1="81.00" y1="82.80" x2="122.57" y2="106.80" stroke="#2a3547" stroke-width="0.5"/><line x1="81.00" y1="82.80" x2="81.00" y2="130.80" stroke="#2a3547" stroke-width="0.5"/><line x1="81.00" y1="82.80" x2="39.43" y2="106.80" stroke="#2a3547" stroke-width="0.5"/><line x1="81.00" y1="82.80" x2="39.43" y2="58.80" stroke="#2a3547" stroke-width="0.5"/><path d="M81.00 82.80 L81.00 49.20 A33.60 33.60 0 0 1 110.10 66.00 Z" fill="#5c9eff" stroke="#0e1b31" stroke-width="0.6"/><path d="M81.00 82.80 L118.41 61.20 A43.20 43.20 0 0 1 118.41 104.40 Z" fill="#8558bf" stroke="#0e1b31" stroke-width="0.6"/><path d="M81.00 82.80 L116.33 103.20 A40.80 40.80 0 0 1 81.00 123.60 Z" fill="#25a06a" stroke="#0e1b31" stroke-width="0.6"/><path d="M81.00 82.80 L81.00 118.80 A36.00 36.00 0 0 1 49.82 100.80 Z" fill="#b46398" stroke="#0e1b31" stroke-width="0.6"/><path d="M81.00 82.80 L56.06 97.20 A28.80 28.80 0 0 1 56.06 68.40 Z" fill="#a5364e" stroke="#0e1b31" stroke-width="0.6"/><path d="M81.00 82.80 L60.22 70.80 A24.00 24.00 0 0 1 81.00 58.80 Z" fill="#c16e29" stroke="#0e1b31" stroke-width="0.6"/></svg>
<div class="t" style="top:711.84px;font-size:8.60px;line-height:10.32px;color:#e0e5ee;font-weight:700;left:726.60px;width:0;display:flex;justify-content:center;"><span style="display:inline-block;">20</span></div>
<div class="t" style="top:736.04px;font-size:8.60px;line-height:10.32px;color:#e0e5ee;font-weight:700;left:728.00px;width:0;display:flex;justify-content:center;"><span style="display:inline-block;">15</span></div>
<div class="b" style="left:565.60px;top:932.40px;width:324.00px;height:2.00px;background:#1c283d;"></div>
<div class="b" style="left:581.20px;top:948.20px;width:22.80px;height:22.80px;background:#17294a;border-radius:4.00px;"></div>
<svg class="b" style="left:586.20px;top:953.20px;" width="12.80" height="12.80" viewBox="0 0 6 6"><path d="M3 0.6 L5.3 1.8 V4.2 L3 5.4 L0.7 4.2 V1.8 Z M0.7 1.8 L3 3 L5.3 1.8 M3 3 V5.4" fill="none" stroke="#5c9eff" stroke-width="0.55" stroke-linejoin="round"/></svg>
<div class="t" style="top:952.24px;font-size:11.60px;line-height:13.92px;color:#dfe5ee;-webkit-text-stroke:0.20px #dfe5ee;left:612.40px;transform:scaleX(1.0408);transform-origin:0 50%;">Delivered</div>
<div class="t" style="top:952.92px;font-size:13.80px;line-height:16.56px;color:#f2f5fa;-webkit-text-stroke:0.40px #f2f5fa;right:882.40px;transform:scaleX(1.0135);transform-origin:100% 50%;">1,754</div>
<div class="b" style="left:581.20px;top:985.00px;width:22.80px;height:22.80px;background:#11332f;border-radius:4.00px;"></div>
<svg class="b" style="left:586.20px;top:990.00px;" width="12.80" height="12.80" viewBox="0 0 6 6"><path d="M1.3 0.7 H3.7 L4.8 1.8 V5.3 H1.3 Z M2.4 3.4 H3.7 M3 2.7 V4.1" fill="none" stroke="#2fd080" stroke-width="0.55" stroke-linejoin="round"/></svg>
<div class="t" style="top:989.04px;font-size:11.60px;line-height:13.92px;color:#dfe5ee;-webkit-text-stroke:0.20px #dfe5ee;left:612.40px;transform:scaleX(1.0100);transform-origin:0 50%;">Pending</div>
<div class="t" style="top:989.72px;font-size:13.80px;line-height:16.56px;color:#f2f5fa;-webkit-text-stroke:0.40px #f2f5fa;right:882.40px;transform:scaleX(1.0858);transform-origin:100% 50%;">873</div>
<div class="b" style="left:736.60px;top:948.20px;width:22.80px;height:22.80px;background:#2a1f47;border-radius:4.00px;"></div>
<svg class="b" style="left:741.60px;top:953.20px;" width="12.80" height="12.80" viewBox="0 0 6 6"><circle cx="3" cy="3" r="2.3" fill="none" stroke="#b46ff2" stroke-width="0.55"/><circle cx="3" cy="3" r="0.7" fill="#b46ff2"/></svg>
<div class="t" style="top:952.24px;font-size:11.60px;line-height:13.92px;color:#dfe5ee;-webkit-text-stroke:0.20px #dfe5ee;left:767.80px;transform:scaleX(1.0273);transform-origin:0 50%;">Cancelled</div>
<div class="t" style="top:952.92px;font-size:13.80px;line-height:16.56px;color:#f2f5fa;-webkit-text-stroke:0.40px #f2f5fa;right:726.80px;transform:scaleX(1.0135);transform-origin:100% 50%;">1,234</div>
<div class="b" style="left:736.60px;top:985.00px;width:22.80px;height:22.80px;background:#33203f;border-radius:4.00px;"></div>
<svg class="b" style="left:741.60px;top:990.00px;" width="12.80" height="12.80" viewBox="0 0 6 6"><path d="M1.2 5.2 V2 L2.2 1 M0.4 2 L1.2 1 L2.2 2 M4.6 0.8 V4 L3.6 5 M5.4 4 L4.6 5 L3.6 4 M2.6 1.6 V4.4 M3.4 1.6 V4.4" fill="none" stroke="#f170ad" stroke-width="0.5"/></svg>
<div class="t" style="top:989.04px;font-size:11.60px;line-height:13.92px;color:#dfe5ee;-webkit-text-stroke:0.20px #dfe5ee;left:767.80px;transform:scaleX(1.0268);transform-origin:0 50%;">Returned</div>
<div class="t" style="top:989.72px;font-size:13.80px;line-height:16.56px;color:#f2f5fa;-webkit-text-stroke:0.40px #f2f5fa;right:726.80px;transform:scaleX(1.0858);transform-origin:100% 50%;">270</div>
<div class="b" style="left:910.60px;top:646.60px;width:326.40px;height:374.40px;background:#0d1b32;border:2px solid #1c283d;border-radius:6.00px;"></div>
<div class="t" style="top:665.96px;font-size:14.40px;line-height:17.28px;color:#f2f5fa;-webkit-text-stroke:0.40px #f2f5fa;left:924.60px;transform:scaleX(0.9699);transform-origin:0 50%;">Overall Statistics</div>
<div class="b" style="left:1170.60px;top:661.40px;width:51.60px;height:24.00px;background:#1b283d;border-radius:4.00px;"></div>
<div class="t" style="top:667.32px;font-size:10.80px;line-height:12.96px;color:#bcc5d2;left:1196.40px;width:0;display:flex;justify-content:center;"><span style="display:inline-block;transform:scaleX(0.9834);transform-origin:50% 50%;">View All</span></div>
<div class="b" style="left:924.40px;top:698.40px;width:297.40px;height:308.40px;border:2px solid #1c283d;border-radius:5.00px;box-sizing:border-box;"></div>
<div class="t" style="top:712.36px;font-size:11.40px;line-height:13.68px;color:#98a4b8;left:936.20px;transform:scaleX(0.9908);transform-origin:0 50%;">Total Expenses</div>
<div class="t" style="top:730.52px;font-size:14.80px;line-height:17.76px;color:#f2f5fa;-webkit-text-stroke:0.40px #f2f5fa;left:936.20px;transform:scaleX(0.9720);transform-origin:0 50%;">$134,032</div>
<div class="t" style="top:733.36px;font-size:11.40px;line-height:13.68px;color:#2fd080;-webkit-text-stroke:0.30px #2fd080;left:1003.40px;transform:scaleX(0.9530);transform-origin:0 50%;">0.45%</div>
<svg class="b" style="left:1037.17px;top:736.00px;" width="8.80" height="7.20" viewBox="0 0 4.4 3.6"><path d="M0.4 3 L1.6 1.9 L2.3 2.5 L3.9 0.9 M2.7 0.8 H4 V2" fill="none" stroke="#2fd080" stroke-width="0.6"/></svg>
<svg class="b" style="left:0.00px;top:0.00px;" width="1600.00" height="1200.00" viewBox="0 0 800 600"><path d="M563.65 367.65 C566.92 367.65 566.92 365.82 570.20 365.82 C573.73 365.82 573.73 369.48 577.27 369.48 C580.81 369.48 580.81 359.00 584.34 359.00 C588.01 359.00 588.01 365.03 591.68 365.03 C594.95 365.03 594.95 361.62 598.23 361.62 C601.50 361.62 601.50 365.82 604.78 365.82" fill="none" stroke="#5c9eff" stroke-width="0.8"/></svg>
<div class="b" style="left:925.40px;top:760.00px;width:295.40px;height:2.00px;background:#1c283d;"></div>
<div class="t" style="top:773.96px;font-size:11.40px;line-height:13.68px;color:#98a4b8;left:936.20px;transform:scaleX(0.9868);transform-origin:0 50%;">General Leads</div>
<div class="t" style="top:792.12px;font-size:14.80px;line-height:17.76px;color:#f2f5fa;-webkit-text-stroke:0.40px #f2f5fa;left:936.20px;transform:scaleX(0.9499);transform-origin:0 50%;">74,354</div>
<div class="t" style="top:794.96px;font-size:11.40px;line-height:13.68px;color:#e54c52;-webkit-text-stroke:0.30px #e54c52;left:986.40px;transform:scaleX(0.9530);transform-origin:0 50%;">3.84%</div>
<svg class="b" style="left:1020.17px;top:797.60px;" width="8.80" height="7.20" viewBox="0 0 4.4 3.6"><path d="M0.4 0.8 L1.6 1.9 L2.3 1.4 L3.9 2.9 M2.7 3 H4 V1.8" fill="none" stroke="#e54c52" stroke-width="0.6"/></svg>
<svg class="b" style="left:0.00px;top:0.00px;" width="1600.00" height="1200.00" viewBox="0 0 800 600"><path d="M563.65 400.92 C566.92 400.92 566.92 395.68 570.20 395.68 C573.73 395.68 573.73 397.78 577.27 397.78 C580.54 397.78 580.54 392.54 583.82 392.54 C587.09 392.54 587.09 395.68 590.37 395.68 C594.04 395.68 594.04 388.61 597.70 388.61 C601.24 388.61 601.24 401.71 604.78 401.71" fill="none" stroke="#b46ff2" stroke-width="0.8"/></svg>
<div class="b" style="left:925.40px;top:821.60px;width:295.40px;height:2.00px;background:#1c283d;"></div>
<div class="t" style="top:835.56px;font-size:11.40px;line-height:13.68px;color:#98a4b8;left:936.20px;transform:scaleX(0.9777);transform-origin:0 50%;">Churn Rate</div>
<div class="t" style="top:853.72px;font-size:14.80px;line-height:17.76px;color:#f2f5fa;-webkit-text-stroke:0.40px #f2f5fa;left:936.20px;transform:scaleX(1.0247);transform-origin:0 50%;">6.02%</div>
<div class="t" style="top:856.56px;font-size:11.40px;line-height:13.68px;color:#2fd080;-webkit-text-stroke:0.30px #2fd080;left:986.40px;transform:scaleX(0.9530);transform-origin:0 50%;">0.72%</div>
<svg class="b" style="left:1020.17px;top:859.20px;" width="8.80" height="7.20" viewBox="0 0 4.4 3.6"><path d="M0.4 3 L1.6 1.9 L2.3 2.5 L3.9 0.9 M2.7 0.8 H4 V2" fill="none" stroke="#2fd080" stroke-width="0.6"/></svg>
<svg class="b" style="left:0.00px;top:0.00px;" width="1600.00" height="1200.00" viewBox="0 0 800 600"><path d="M563.65 425.29 C566.92 425.29 566.92 432.36 570.20 432.36 C573.73 432.36 573.73 425.81 577.27 425.81 C580.54 425.81 580.54 428.69 583.82 428.69 C587.49 428.69 587.49 420.83 591.15 420.83 C594.69 420.83 594.69 423.45 598.23 423.45 C601.50 423.45 601.50 424.50 604.78 424.50" fill="none" stroke="#2fd080" stroke-width="0.8"/></svg>
<div class="b" style="left:925.40px;top:883.20px;width:295.40px;height:2.00px;background:#1c283d;"></div>
<div class="t" style="top:897.16px;font-size:11.40px;line-height:13.68px;color:#98a4b8;left:936.20px;transform:scaleX(0.9687);transform-origin:0 50%;">New Users</div>
<div class="t" style="top:915.32px;font-size:14.80px;line-height:17.76px;color:#f2f5fa;-webkit-text-stroke:0.40px #f2f5fa;left:936.20px;transform:scaleX(0.9450);transform-origin:0 50%;">7,893</div>
<div class="t" style="top:918.16px;font-size:11.40px;line-height:13.68px;color:#2fd080;-webkit-text-stroke:0.30px #2fd080;left:978.40px;transform:scaleX(0.9530);transform-origin:0 50%;">11.05%</div>
<svg class="b" style="left:1017.30px;top:920.80px;" width="8.80" height="7.20" viewBox="0 0 4.4 3.6"><path d="M0.4 3 L1.6 1.9 L2.3 2.5 L3.9 0.9 M2.7 0.8 H4 V2" fill="none" stroke="#2fd080" stroke-width="0.6"/></svg>
<svg class="b" style="left:0.00px;top:0.00px;" width="1600.00" height="1200.00" viewBox="0 0 800 600"><path d="M563.65 463.27 C566.92 463.27 566.92 458.03 570.20 458.03 C573.73 458.03 573.73 462.75 577.27 462.75 C580.81 462.75 580.81 456.20 584.34 456.20 C587.75 456.20 587.75 458.03 591.15 458.03 C594.43 458.03 594.43 453.58 597.70 453.58 C601.24 453.58 601.24 460.65 604.78 460.65" fill="none" stroke="#f170ad" stroke-width="0.8"/></svg>
<div class="b" style="left:925.40px;top:944.80px;width:295.40px;height:2.00px;background:#1c283d;"></div>
<div class="t" style="top:958.76px;font-size:11.40px;line-height:13.68px;color:#98a4b8;left:936.20px;transform:scaleX(0.9834);transform-origin:0 50%;">Returning Users</div>
<div class="t" style="top:976.92px;font-size:14.80px;line-height:17.76px;color:#f2f5fa;-webkit-text-stroke:0.40px #f2f5fa;left:936.20px;transform:scaleX(0.9990);transform-origin:0 50%;">3,258</div>
<div class="t" style="top:979.76px;font-size:11.40px;line-height:13.68px;color:#2fd080;-webkit-text-stroke:0.30px #2fd080;left:980.40px;transform:scaleX(0.9530);transform-origin:0 50%;">1.69%</div>
<svg class="b" style="left:1014.17px;top:982.40px;" width="8.80" height="7.20" viewBox="0 0 4.4 3.6"><path d="M0.4 3 L1.6 1.9 L2.3 2.5 L3.9 0.9 M2.7 0.8 H4 V2" fill="none" stroke="#2fd080" stroke-width="0.6"/></svg>
<svg class="b" style="left:0.00px;top:0.00px;" width="1600.00" height="1200.00" viewBox="0 0 800 600"><path d="M563.65 491.57 C566.92 491.57 566.92 482.92 570.20 482.92 C573.73 482.92 573.73 492.09 577.27 492.09 C580.81 492.09 580.81 482.40 584.34 482.40 C587.75 482.40 587.75 488.16 591.15 488.16 C594.43 488.16 594.43 484.76 597.70 484.76 C601.24 484.76 601.24 488.69 604.78 488.69" fill="none" stroke="#f0812f" stroke-width="0.8"/></svg>
<div class="b" style="left:1256.40px;top:696.40px;width:327.00px;height:323.60px;background:#0d1b32;border:2px solid #1c283d;border-radius:6.00px;"></div>
<div class="t" style="top:712.96px;font-size:14.40px;line-height:17.28px;color:#f2f5fa;-webkit-text-stroke:0.40px #f2f5fa;left:1271.00px;transform:scaleX(0.9501);transform-origin:0 50%;">Visitors By Device</div>
<svg class="b" style="left:1548.20px;top:748.60px;" width="12.40" height="10.00" viewBox="0 0 6.2 5"><path d="M0.1 0.7 H6.1 M0.1 2.5 H6.1 M0.1 4.3 H6.1" stroke="#6f7c93" stroke-width="1.05"/></svg>
<div class="t" style="top:947.80px;font-size:10.00px;line-height:12.00px;color:#b4bdcc;right:304.80px;">0</div>
<div class="b" style="left:1300.80px;top:952.80px;width:240.40px;height:2.00px;background:#1c283c;"></div>
<div class="t" style="top:915.43px;font-size:10.00px;line-height:12.00px;color:#b4bdcc;right:304.80px;">10</div>
<div class="b" style="left:1300.80px;top:920.43px;width:240.40px;height:2.00px;background:#1c283c;"></div>
<div class="t" style="top:883.07px;font-size:10.00px;line-height:12.00px;color:#b4bdcc;right:304.80px;">20</div>
<div class="b" style="left:1300.80px;top:888.07px;width:240.40px;height:2.00px;background:#1c283c;"></div>
<div class="t" style="top:850.70px;font-size:10.00px;line-height:12.00px;color:#b4bdcc;right:304.80px;">30</div>
<div class="b" style="left:1300.80px;top:855.70px;width:240.40px;height:2.00px;background:#1c283c;"></div>
<div class="t" style="top:818.33px;font-size:10.00px;line-height:12.00px;color:#b4bdcc;right:304.80px;">40</div>
<div class="b" style="left:1300.80px;top:823.33px;width:240.40px;height:2.00px;background:#1c283c;"></div>
<div class="t" style="top:785.97px;font-size:10.00px;line-height:12.00px;color:#b4bdcc;right:304.80px;">50</div>
<div class="b" style="left:1300.80px;top:790.97px;width:240.40px;height:2.00px;background:#1c283c;"></div>
<div class="t" style="top:753.60px;font-size:10.00px;line-height:12.00px;color:#b4bdcc;right:304.80px;">60</div>
<div class="b" style="left:1300.80px;top:758.60px;width:240.40px;height:2.00px;background:#1c283c;"></div>
<div class="b" style="left:1321.10px;top:872.88px;width:24.20px;height:80.92px;background:#5c9eff;"></div>
<div class="t" style="top:907.94px;font-size:11.00px;line-height:13.20px;color:#ffffff;font-weight:700;left:1333.60px;width:0;display:flex;justify-content:center;"><span style="display:inline-block;">25</span></div>
<div class="t" style="top:964.16px;font-size:10.40px;line-height:12.48px;color:#b4bdcc;left:1333.20px;width:0;display:flex;justify-content:center;"><span style="display:inline-block;">Mobile</span></div>
<div class="b" style="left:1380.50px;top:791.97px;width:24.20px;height:161.83px;background:#5c9eff;"></div>
<div class="t" style="top:867.48px;font-size:11.00px;line-height:13.20px;color:#ffffff;font-weight:700;left:1393.00px;width:0;display:flex;justify-content:center;"><span style="display:inline-block;">50</span></div>
<div class="t" style="top:964.16px;font-size:10.40px;line-height:12.48px;color:#b4bdcc;left:1392.60px;width:0;display:flex;justify-content:center;"><span style="display:inline-block;">Desktop</span></div>
<div class="b" style="left:1439.90px;top:856.70px;width:24.20px;height:97.10px;background:#5c9eff;"></div>
<div class="t" style="top:899.85px;font-size:11.00px;line-height:13.20px;color:#ffffff;font-weight:700;left:1452.40px;width:0;display:flex;justify-content:center;"><span style="display:inline-block;">30</span></div>
<div class="t" style="top:964.16px;font-size:10.40px;line-height:12.48px;color:#b4bdcc;left:1452.00px;width:0;display:flex;justify-content:center;"><span style="display:inline-block;">Laptop</span></div>
<div class="b" style="left:1499.30px;top:775.78px;width:24.20px;height:178.02px;background:#5c9eff;"></div>
<div class="t" style="top:859.39px;font-size:11.00px;line-height:13.20px;color:#ffffff;font-weight:700;left:1511.80px;width:0;display:flex;justify-content:center;"><span style="display:inline-block;">55</span></div>
<div class="t" style="top:964.16px;font-size:10.40px;line-height:12.48px;color:#b4bdcc;left:1511.40px;width:0;display:flex;justify-content:center;"><span style="display:inline-block;">Tablet</span></div>
<div class="b" style="left:1256.40px;top:1040.00px;width:327.00px;height:180.00px;background:#0d1b32;border:2px solid #1c283d;border-radius:6.00px;"></div>
<div class="t" style="top:1063.36px;font-size:14.40px;line-height:17.28px;color:#f2f5fa;-webkit-text-stroke:0.40px #f2f5fa;left:1271.00px;transform:scaleX(0.9401);transform-origin:0 50%;">Transactions</div>
<div class="t" style="top:1064.84px;font-size:10.60px;line-height:12.72px;color:#a0abbd;left:1518.00px;transform:scaleX(0.9478);transform-origin:0 50%;">View All</div>
<svg class="b" style="left:1559.20px;top:1068.20px;" width="8.00" height="6.00" viewBox="0 0 4 3"><path d="M0.4 1.5 H3.4 M2.3 0.5 L3.4 1.5 L2.3 2.5" fill="none" stroke="#8e9bb0" stroke-width="0.5"/></svg>
<div class="b" style="left:1270.80px;top:1111.00px;width:23.20px;height:23.20px;background:#17294a;border-radius:4.00px;"></div>
<svg class="b" style="left:1276.40px;top:1116.40px;" width="12.00" height="12.40" viewBox="0 0 6 6.2"><path d="M1.4 5.6 V0.9 H3.6 Q5 0.9 5 2.2 Q5 3.6 3.6 3.6 H2.6 V5.6 Z" fill="#5c9eff"/></svg>
<div class="t" style="top:1112.28px;font-size:11.20px;line-height:13.44px;color:#f2f5fa;-webkit-text-stroke:0.45px #f2f5fa;left:1300.80px;transform:scaleX(1.0488);transform-origin:0 50%;">Paypal ****2783</div>
<div class="t" style="top:1131.20px;font-size:10.00px;line-height:12.00px;color:#8d9ab0;left:1300.80px;transform:scaleX(0.9493);transform-origin:0 50%;">24,Jul 2024 at 2:45PM</div>
<div class="t" style="top:1112.00px;font-size:12.00px;line-height:14.40px;color:#f2f5fa;-webkit-text-stroke:0.45px #f2f5fa;right:30.80px;transform:scaleX(1.0143);transform-origin:100% 50%;">$12,300</div>
<div class="t" style="top:1130.16px;font-size:10.40px;line-height:12.48px;color:#2fd080;right:30.80px;transform:scaleX(1.0088);transform-origin:100% 50%;">Paid</div>
<div class="b" style="left:1270.80px;top:1157.60px;width:23.20px;height:23.20px;background:#28204a;border-radius:4.00px;"></div>
<svg class="b" style="left:1276.40px;top:1163.20px;" width="12.00" height="12.00" viewBox="0 0 6 6"><rect x="0.7" y="1" width="4.6" height="4" rx="0.8" fill="none" stroke="#b46ff2" stroke-width="0.7"/><rect x="3" y="2.3" width="2.3" height="1.5" fill="none" stroke="#b46ff2" stroke-width="0.6"/></svg>
<div class="t" style="top:1158.88px;font-size:11.20px;line-height:13.44px;color:#f2f5fa;-webkit-text-stroke:0.45px #f2f5fa;left:1300.80px;transform:scaleX(1.0441);transform-origin:0 50%;">Digital Wallet</div>
<div class="t" style="top:1178.20px;font-size:10.00px;line-height:12.00px;color:#8d9ab0;left:1300.80px;transform:scaleX(0.8919);transform-origin:0 50%;">13,May 2024 at 11:21AM</div>
<div class="t" style="top:1158.80px;font-size:12.00px;line-height:14.40px;color:#f2f5fa;-webkit-text-stroke:0.45px #f2f5fa;right:30.80px;transform:scaleX(0.9650);transform-origin:100% 50%;">$11,449</div>
<div class="t" style="top:1176.96px;font-size:10.40px;line-height:12.48px;color:#2fd080;right:30.80px;transform:scaleX(1.0088);transform-origin:100% 50%;">Paid</div>
<div class="b" style="left:218.00px;top:1041.00px;width:1019.00px;height:180.00px;background:#0d1b32;border:2px solid #1c283d;border-radius:6.00px;"></div>
<div class="t" style="top:1060.16px;font-size:14.40px;line-height:17.28px;color:#f2f5fa;-webkit-text-stroke:0.40px #f2f5fa;left:232.00px;transform:scaleX(0.9505);transform-origin:0 50%;">Recent Orders</div>
<div class="b" style="left:1014.40px;top:1056.80px;width:137.60px;height:24.00px;border:2px solid #222f45;border-radius:4.00px;box-sizing:border-box;"></div>
<div class="t" style="top:1062.56px;font-size:10.40px;line-height:12.48px;color:#67768f;left:1026.00px;transform:scaleX(1.0448);transform-origin:0 50%;">Search Here</div>
<div class="b" style="left:1158.80px;top:1056.40px;width:64.00px;height:24.60px;background:#5c9eff;border-radius:4.00px;"></div>
<div class="t" style="top:1062.32px;font-size:10.80px;line-height:12.96px;color:#fff;font-weight:700;left:1167.60px;transform:scaleX(0.9113);transform-origin:0 50%;">Sort By</div>
<svg class="b" style="left:1207.20px;top:1066.40px;" width="8.00" height="6.00" viewBox="0 0 4 3"><path d="M0.6 0.8 L2 2.2 L3.4 0.8" fill="none" stroke="#fff" stroke-width="0.6"/></svg>
<div class="t" style="top:1104.92px;font-size:11.80px;line-height:14.16px;color:#eef1f6;-webkit-text-stroke:0.30px #eef1f6;left:234.00px;transform:scaleX(1.0558);transform-origin:0 50%;">Customer</div>
<div class="t" style="top:1104.92px;font-size:11.80px;line-height:14.16px;color:#eef1f6;-webkit-text-stroke:0.30px #eef1f6;left:420.60px;transform:scaleX(1.0737);transform-origin:0 50%;">Products</div>
<div class="t" style="top:1104.92px;font-size:11.80px;line-height:14.16px;color:#eef1f6;-webkit-text-stroke:0.30px #eef1f6;left:594.00px;transform:scaleX(1.0630);transform-origin:0 50%;">Ordered Date</div>
<div class="t" style="top:1104.92px;font-size:11.80px;line-height:14.16px;color:#eef1f6;-webkit-text-stroke:0.30px #eef1f6;left:728.40px;transform:scaleX(1.0462);transform-origin:0 50%;">Status</div>
<div class="t" style="top:1104.92px;font-size:11.80px;line-height:14.16px;color:#eef1f6;-webkit-text-stroke:0.30px #eef1f6;left:833.40px;transform:scaleX(1.0554);transform-origin:0 50%;">Total Amount</div>
<div class="t" style="top:1104.92px;font-size:11.80px;line-height:14.16px;color:#eef1f6;-webkit-text-stroke:0.30px #eef1f6;left:962.80px;transform:scaleX(1.0425);transform-origin:0 50%;">Payment Method</div>
<div class="t" style="top:1104.92px;font-size:11.80px;line-height:14.16px;color:#eef1f6;-webkit-text-stroke:0.30px #eef1f6;left:1137.60px;transform:scaleX(1.0854);transform-origin:0 50%;">Actions</div>
<div class="b" style="left:219.00px;top:1130.60px;width:1017.00px;height:2.00px;background:#1c283d;"></div>
<div class="b" style="left:233.80px;top:1142.60px;width:31.80px;height:31.40px;background:#16274a;border-radius:4.00px;"></div>
<div class="t" style="top:1152.44px;font-size:9.60px;line-height:11.52px;color:#5c9eff;font-weight:700;left:249.80px;width:0;display:flex;justify-content:center;"><span style="display:inline-block;">JD</span></div>
<div class="t" style="top:1143.68px;font-size:11.20px;line-height:13.44px;color:#f2f5fa;-webkit-text-stroke:0.45px #f2f5fa;left:273.40px;transform:scaleX(1.0220);transform-origin:0 50%;">John Doe</div>
<div class="t" style="top:1160.96px;font-size:10.40px;line-height:12.48px;color:#8d9ab0;left:273.40px;transform:scaleX(1.0255);transform-origin:0 50%;">#SPK1001</div>
<svg class="b" style="left:419.40px;top:1144.80px;" width="24.60" height="24.60" viewBox="0 0 100 100"><circle cx="50" cy="50" r="50" fill="#a9eef2"/><rect x="40" y="8" width="20" height="84" rx="7" fill="#2a3a4c"/><ellipse cx="50" cy="50" rx="17" ry="22" fill="#1a2635"/><ellipse cx="50" cy="50" rx="11" ry="15" fill="#3a4d63"/></svg>
<div class="t" style="top:1151.92px;font-size:10.80px;line-height:12.96px;color:#f2f5fa;-webkit-text-stroke:0.45px #f2f5fa;left:451.00px;transform:scaleX(1.0937);transform-origin:0 50%;">Wrist Watch</div>
<div class="t" style="top:1143.68px;font-size:11.20px;line-height:13.44px;color:#f2f5fa;-webkit-text-stroke:0.45px #f2f5fa;left:594.00px;transform:scaleX(1.1869);transform-origin:0 50%;">2024-10-05</div>
<div class="t" style="top:1161.20px;font-size:10.00px;line-height:12.00px;color:#8d9ab0;left:594.00px;transform:scaleX(1.0243);transform-origin:0 50%;">12:45PM</div>
<div class="b" style="left:728.40px;top:1151.20px;width:45.60px;height:14.60px;background:#5c9eff;border-radius:2.80px;"></div>
<div class="t" style="top:1153.56px;font-size:8.40px;line-height:10.08px;color:#fff;font-weight:700;left:751.20px;width:0;display:flex;justify-content:center;"><span style="display:inline-block;transform:scaleX(0.9658);transform-origin:50% 50%;">Shipped</span></div>
<div class="t" style="top:1151.68px;font-size:11.20px;line-height:13.44px;color:#f2f5fa;-webkit-text-stroke:0.45px #f2f5fa;left:833.40px;transform:scaleX(1.1362);transform-origin:0 50%;">$150.00</div>
<svg class="b" style="left:962.80px;top:1146.40px;" width="9.20" height="9.20" viewBox="0 0 4.6 4.6"><rect x="0.5" y="0.6" width="3.6" height="3.4" fill="none" stroke="#dfe5ee" stroke-width="0.55"/><path d="M0.5 1.9 H4.1 M1.2 3 H2.4" stroke="#dfe5ee" stroke-width="0.5"/></svg>
<div class="t" style="top:1144.28px;font-size:11.20px;line-height:13.44px;color:#f2f5fa;-webkit-text-stroke:0.45px #f2f5fa;left:977.20px;transform:scaleX(1.0827);transform-origin:0 50%;">Credit Card</div>
<div class="t" style="top:1161.60px;font-size:10.00px;line-height:12.00px;color:#8d9ab0;left:962.80px;transform:scaleX(1.0581);transform-origin:0 50%;">**** **** 1111</div>
<div class="b" style="left:1137.60px;top:1146.00px;width:23.60px;height:24.40px;background:#16274a;border-radius:4.00px;"></div>
<svg class="b" style="left:1143.40px;top:1153.20px;" width="12.00" height="10.00" viewBox="0 0 6 5"><path d="M0.5 2.5 Q3 -0.3 5.5 2.5 Q3 5.3 0.5 2.5Z" fill="none" stroke="#5c9eff" stroke-width="0.55"/><circle cx="3" cy="2.5" r="0.9" fill="#5c9eff"/></svg>
<div class="b" style="left:1167.60px;top:1146.00px;width:23.80px;height:24.40px;background:#2a1f47;border-radius:4.00px;"></div>
<svg class="b" style="left:1173.60px;top:1152.20px;" width="12.00" height="12.00" viewBox="0 0 6 6"><path d="M0.9 5.1 L1.3 3.7 L4 1 L5 2 L2.3 4.7 Z" fill="#b46ff2"/></svg>
<div class="b" style="left:219.00px;top:1185.60px;width:1017.00px;height:2.00px;background:#1c283d;"></div>
<div class="b" style="left:233.80px;top:1196.00px;width:31.80px;height:31.40px;background:#16274a;border-radius:4.00px;"></div>
<div class="t" style="top:1199.28px;font-size:11.20px;line-height:13.44px;color:#f2f5fa;-webkit-text-stroke:0.45px #f2f5fa;left:273.40px;transform:scaleX(0.9638);transform-origin:0 50%;">Jane Smith</div>
<div class="t" style="top:1205.52px;font-size:10.80px;line-height:12.96px;color:#f2f5fa;-webkit-text-stroke:0.45px #f2f5fa;left:451.00px;transform:scaleX(1.0285);transform-origin:0 50%;">Headphones</div>
<div class="t" style="top:1199.28px;font-size:11.20px;line-height:13.44px;color:#f2f5fa;-webkit-text-stroke:0.45px #f2f5fa;left:594.00px;transform:scaleX(1.1869);transform-origin:0 50%;">2024-10-06</div>
<div class="t" style="top:1199.88px;font-size:11.20px;line-height:13.44px;color:#f2f5fa;-webkit-text-stroke:0.45px #f2f5fa;left:977.20px;transform:scaleX(1.0460);transform-origin:0 50%;">Debit Card</div>
<svg class="b" style="left:962.80px;top:1202.00px;" width="9.20" height="9.20" viewBox="0 0 4.6 4.6"><rect x="0.5" y="0.6" width="3.6" height="3.4" fill="none" stroke="#dfe5ee" stroke-width="0.55"/></svg>
<svg class="b" style="left:419.40px;top:1199.20px;" width="24.60" height="24.60" viewBox="0 0 100 100"><circle cx="50" cy="50" r="50" fill="#8d98a8"/></svg>
</div></body></html>
